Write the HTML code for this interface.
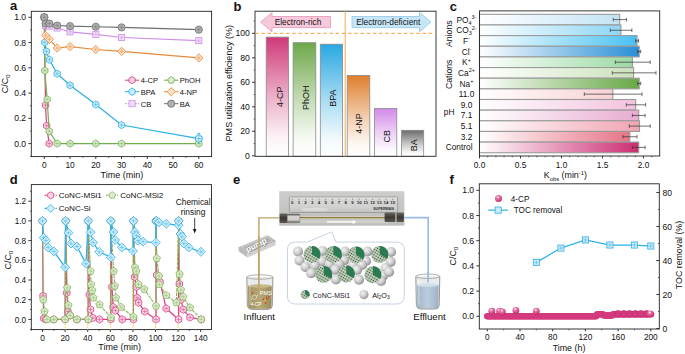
<!DOCTYPE html><html><head><meta charset="utf-8"><title>Figure</title><style>html,body{margin:0;padding:0;background:#fff;}svg{display:block;font-family:"Liberation Sans",sans-serif;}</style></head><body><svg width="685" height="354" viewBox="0 0 685 354" font-family="Liberation Sans, sans-serif"><defs><linearGradient id="gb0" x1="0" y1="0" x2="0" y2="1"><stop offset="0" stop-color="#cf3a78"/><stop offset="0.5" stop-color="#cf3a78" stop-opacity="0.4"/><stop offset="0.85" stop-color="#cf3a78" stop-opacity="0.06"/><stop offset="1" stop-color="#cf3a78" stop-opacity="0"/></linearGradient><linearGradient id="gb1" x1="0" y1="0" x2="0" y2="1"><stop offset="0" stop-color="#6ea84a"/><stop offset="0.5" stop-color="#6ea84a" stop-opacity="0.4"/><stop offset="0.85" stop-color="#6ea84a" stop-opacity="0.06"/><stop offset="1" stop-color="#6ea84a" stop-opacity="0"/></linearGradient><linearGradient id="gb2" x1="0" y1="0" x2="0" y2="1"><stop offset="0" stop-color="#28a8e2"/><stop offset="0.5" stop-color="#28a8e2" stop-opacity="0.4"/><stop offset="0.85" stop-color="#28a8e2" stop-opacity="0.06"/><stop offset="1" stop-color="#28a8e2" stop-opacity="0"/></linearGradient><linearGradient id="gb3" x1="0" y1="0" x2="0" y2="1"><stop offset="0" stop-color="#df7e2c"/><stop offset="0.5" stop-color="#df7e2c" stop-opacity="0.4"/><stop offset="0.85" stop-color="#df7e2c" stop-opacity="0.06"/><stop offset="1" stop-color="#df7e2c" stop-opacity="0"/></linearGradient><linearGradient id="gb4" x1="0" y1="0" x2="0" y2="1"><stop offset="0" stop-color="#d28ae8"/><stop offset="0.5" stop-color="#d28ae8" stop-opacity="0.4"/><stop offset="0.85" stop-color="#d28ae8" stop-opacity="0.06"/><stop offset="1" stop-color="#d28ae8" stop-opacity="0"/></linearGradient><linearGradient id="gb5" x1="0" y1="0" x2="0" y2="1"><stop offset="0" stop-color="#6a6a6a"/><stop offset="0.5" stop-color="#6a6a6a" stop-opacity="0.4"/><stop offset="0.85" stop-color="#6a6a6a" stop-opacity="0.06"/><stop offset="1" stop-color="#6a6a6a" stop-opacity="0"/></linearGradient><linearGradient id="gc0" x1="0" y1="0" x2="1" y2="0"><stop offset="0" stop-color="#ffffff"/><stop offset="1" stop-color="#c2e4f5"/></linearGradient><linearGradient id="gc1" x1="0" y1="0" x2="1" y2="0"><stop offset="0" stop-color="#ffffff"/><stop offset="1" stop-color="#8ed6f4"/></linearGradient><linearGradient id="gc2" x1="0" y1="0" x2="1" y2="0"><stop offset="0" stop-color="#ffffff"/><stop offset="1" stop-color="#48c2f2"/></linearGradient><linearGradient id="gc3" x1="0" y1="0" x2="1" y2="0"><stop offset="0" stop-color="#ffffff"/><stop offset="1" stop-color="#2a8ed6"/></linearGradient><linearGradient id="gc4" x1="0" y1="0" x2="1" y2="0"><stop offset="0" stop-color="#ffffff"/><stop offset="1" stop-color="#9cdaa4"/></linearGradient><linearGradient id="gc5" x1="0" y1="0" x2="1" y2="0"><stop offset="0" stop-color="#ffffff"/><stop offset="1" stop-color="#cce2bc"/></linearGradient><linearGradient id="gc6" x1="0" y1="0" x2="1" y2="0"><stop offset="0" stop-color="#ffffff"/><stop offset="1" stop-color="#66a846"/></linearGradient><linearGradient id="gc7" x1="0" y1="0" x2="1" y2="0"><stop offset="0" stop-color="#ffffff"/><stop offset="1" stop-color="#f8d2d2"/></linearGradient><linearGradient id="gc8" x1="0" y1="0" x2="1" y2="0"><stop offset="0" stop-color="#ffffff"/><stop offset="1" stop-color="#f2c2de"/></linearGradient><linearGradient id="gc9" x1="0" y1="0" x2="1" y2="0"><stop offset="0" stop-color="#ffffff"/><stop offset="1" stop-color="#e8acd0"/></linearGradient><linearGradient id="gc10" x1="0" y1="0" x2="1" y2="0"><stop offset="0" stop-color="#ffffff"/><stop offset="1" stop-color="#f0a4b2"/></linearGradient><linearGradient id="gc11" x1="0" y1="0" x2="1" y2="0"><stop offset="0" stop-color="#ffffff"/><stop offset="1" stop-color="#e67486"/></linearGradient><linearGradient id="gc12" x1="0" y1="0" x2="1" y2="0"><stop offset="0" stop-color="#ffffff"/><stop offset="1" stop-color="#cc2e72"/></linearGradient><linearGradient id="photo" x1="0" y1="0" x2="0" y2="1"><stop offset="0" stop-color="#cdcdcb"/><stop offset="1" stop-color="#bdbdbb"/></linearGradient><linearGradient id="ruler" x1="0" y1="0" x2="0" y2="1"><stop offset="0" stop-color="#d8d8d6"/><stop offset="0.6" stop-color="#d2d2d0"/><stop offset="1" stop-color="#c2c2c0"/></linearGradient><linearGradient id="nut" x1="0" y1="0" x2="0" y2="1"><stop offset="0" stop-color="#6a6660"/><stop offset="0.5" stop-color="#3a3632"/><stop offset="1" stop-color="#5a5650"/></linearGradient><linearGradient id="silv" x1="0" y1="0" x2="0" y2="1"><stop offset="0" stop-color="#5a5852"/><stop offset="0.3" stop-color="#d8d6d0"/><stop offset="0.7" stop-color="#d0cec8"/><stop offset="1" stop-color="#5e5a54"/></linearGradient><linearGradient id="pumpg" x1="0" y1="0" x2="1" y2="1"><stop offset="0" stop-color="#c8c8c8"/><stop offset="0.5" stop-color="#adadad"/><stop offset="1" stop-color="#a0a0a0"/></linearGradient><radialGradient id="wsph" cx="0.38" cy="0.35" r="0.72"><stop offset="0" stop-color="#f4f4f4"/><stop offset="0.5" stop-color="#cdcdcd"/><stop offset="1" stop-color="#858585"/></radialGradient><radialGradient id="gsph" cx="0.45" cy="0.45" r="0.6"><stop offset="0" stop-color="#c8d6c0"/><stop offset="0.8" stop-color="#bccdb6"/><stop offset="1" stop-color="#dde4cc"/></radialGradient><pattern id="dots" width="2.5" height="2.5" patternUnits="userSpaceOnUse" patternTransform="rotate(30)"><circle cx="1.25" cy="1.25" r="0.72" fill="#1e3626" fill-opacity="0.85"/></pattern><linearGradient id="liq1" x1="0" y1="0" x2="1" y2="0"><stop offset="0" stop-color="#a09060"/><stop offset="0.5" stop-color="#b8a874"/><stop offset="1" stop-color="#9c8c5c"/></linearGradient><linearGradient id="liq2" x1="0" y1="0" x2="1" y2="0"><stop offset="0" stop-color="#a2b6ca"/><stop offset="0.5" stop-color="#bccddd"/><stop offset="1" stop-color="#9eb2c6"/></linearGradient><radialGradient id="psph" cx="0.4" cy="0.3" r="0.7"><stop offset="0" stop-color="#ffffff"/><stop offset="0.3" stop-color="#e87aa8"/><stop offset="1" stop-color="#c42a6c"/></radialGradient></defs><rect width="685" height="354" fill="#ffffff"/><text transform="translate(10.00 9.90) scale(1 1.05)" font-size="13.0" font-weight="bold" fill="#111">a</text>
<rect x="31.30" y="11.30" width="180.30" height="145.30" fill="none" stroke="#222" stroke-width="0.9"/>
<line x1="28.30" y1="143.60" x2="31.30" y2="143.60" stroke="#222" stroke-width="0.9" />
<text x="26.10" y="146.70" font-size="8.6" text-anchor="end" fill="#111" >0.0</text>
<line x1="28.30" y1="118.34" x2="31.30" y2="118.34" stroke="#222" stroke-width="0.9" />
<text x="26.10" y="121.44" font-size="8.6" text-anchor="end" fill="#111" >0.2</text>
<line x1="28.30" y1="93.08" x2="31.30" y2="93.08" stroke="#222" stroke-width="0.9" />
<text x="26.10" y="96.18" font-size="8.6" text-anchor="end" fill="#111" >0.4</text>
<line x1="28.30" y1="67.82" x2="31.30" y2="67.82" stroke="#222" stroke-width="0.9" />
<text x="26.10" y="70.92" font-size="8.6" text-anchor="end" fill="#111" >0.6</text>
<line x1="28.30" y1="42.56" x2="31.30" y2="42.56" stroke="#222" stroke-width="0.9" />
<text x="26.10" y="45.66" font-size="8.6" text-anchor="end" fill="#111" >0.8</text>
<line x1="28.30" y1="17.30" x2="31.30" y2="17.30" stroke="#222" stroke-width="0.9" />
<text x="26.10" y="20.40" font-size="8.6" text-anchor="end" fill="#111" >1.0</text>
<line x1="30.00" y1="130.97" x2="31.30" y2="130.97" stroke="#222" stroke-width="0.7" />
<line x1="30.00" y1="105.71" x2="31.30" y2="105.71" stroke="#222" stroke-width="0.7" />
<line x1="30.00" y1="80.45" x2="31.30" y2="80.45" stroke="#222" stroke-width="0.7" />
<line x1="30.00" y1="55.19" x2="31.30" y2="55.19" stroke="#222" stroke-width="0.7" />
<line x1="30.00" y1="29.93" x2="31.30" y2="29.93" stroke="#222" stroke-width="0.7" />
<line x1="30.00" y1="156.23" x2="31.30" y2="156.23" stroke="#222" stroke-width="0.7" />
<line x1="44.30" y1="156.60" x2="44.30" y2="159.00" stroke="#222" stroke-width="0.9" />
<text x="44.30" y="167.90" font-size="8.3" text-anchor="middle" fill="#111" >0</text>
<line x1="70.05" y1="156.60" x2="70.05" y2="159.00" stroke="#222" stroke-width="0.9" />
<text x="70.05" y="167.90" font-size="8.3" text-anchor="middle" fill="#111" >10</text>
<line x1="95.80" y1="156.60" x2="95.80" y2="159.00" stroke="#222" stroke-width="0.9" />
<text x="95.80" y="167.90" font-size="8.3" text-anchor="middle" fill="#111" >20</text>
<line x1="121.55" y1="156.60" x2="121.55" y2="159.00" stroke="#222" stroke-width="0.9" />
<text x="121.55" y="167.90" font-size="8.3" text-anchor="middle" fill="#111" >30</text>
<line x1="147.30" y1="156.60" x2="147.30" y2="159.00" stroke="#222" stroke-width="0.9" />
<text x="147.30" y="167.90" font-size="8.3" text-anchor="middle" fill="#111" >40</text>
<line x1="173.05" y1="156.60" x2="173.05" y2="159.00" stroke="#222" stroke-width="0.9" />
<text x="173.05" y="167.90" font-size="8.3" text-anchor="middle" fill="#111" >50</text>
<line x1="198.80" y1="156.60" x2="198.80" y2="159.00" stroke="#222" stroke-width="0.9" />
<text x="198.80" y="167.90" font-size="8.3" text-anchor="middle" fill="#111" >60</text>
<line x1="57.17" y1="156.60" x2="57.17" y2="157.90" stroke="#222" stroke-width="0.7" />
<line x1="82.92" y1="156.60" x2="82.92" y2="157.90" stroke="#222" stroke-width="0.7" />
<line x1="108.67" y1="156.60" x2="108.67" y2="157.90" stroke="#222" stroke-width="0.7" />
<line x1="134.43" y1="156.60" x2="134.43" y2="157.90" stroke="#222" stroke-width="0.7" />
<line x1="160.18" y1="156.60" x2="160.18" y2="157.90" stroke="#222" stroke-width="0.7" />
<line x1="185.93" y1="156.60" x2="185.93" y2="157.90" stroke="#222" stroke-width="0.7" />
<text x="121.90" y="177.60" font-size="9.0" text-anchor="middle" fill="#111" >Time (min)</text>
<text transform="translate(8.1 93.3) rotate(-90)" font-size="9" fill="#111">C/C<tspan font-size="6" dy="2.2">0</tspan></text>
<polyline points="44.30,17.30 45.51,105.20 46.62,125.79 49.19,143.60" fill="none" stroke="#d6407e" stroke-width="1.2"/>
<polygon points="44.30,13.70 47.42,15.50 47.42,19.10 44.30,20.90 41.18,19.10 41.18,15.50" fill="#f4cfe0" stroke="#d6407e" stroke-width="0.8" fill-opacity="1"/>
<line x1="42.32" y1="17.30" x2="46.28" y2="17.30" stroke="#d6407e" stroke-width="0.5" />
<line x1="44.30" y1="15.32" x2="44.30" y2="19.28" stroke="#d6407e" stroke-width="0.5" />
<polygon points="45.51,101.60 48.63,103.40 48.63,107.00 45.51,108.80 42.39,107.00 42.39,103.40" fill="#f4cfe0" stroke="#d6407e" stroke-width="0.8" fill-opacity="1"/>
<line x1="43.53" y1="105.20" x2="47.49" y2="105.20" stroke="#d6407e" stroke-width="0.5" />
<line x1="45.51" y1="103.22" x2="45.51" y2="107.18" stroke="#d6407e" stroke-width="0.5" />
<polygon points="46.62,122.19 49.74,123.99 49.74,127.59 46.62,129.39 43.50,127.59 43.50,123.99" fill="#f4cfe0" stroke="#d6407e" stroke-width="0.8" fill-opacity="1"/>
<line x1="44.64" y1="125.79" x2="48.60" y2="125.79" stroke="#d6407e" stroke-width="0.5" />
<line x1="46.62" y1="123.81" x2="46.62" y2="127.77" stroke="#d6407e" stroke-width="0.5" />
<polygon points="49.19,140.00 52.31,141.80 52.31,145.40 49.19,147.20 46.07,145.40 46.07,141.80" fill="#f4cfe0" stroke="#d6407e" stroke-width="0.8" fill-opacity="1"/>
<line x1="47.21" y1="143.60" x2="51.17" y2="143.60" stroke="#d6407e" stroke-width="0.5" />
<line x1="49.19" y1="141.62" x2="49.19" y2="145.58" stroke="#d6407e" stroke-width="0.5" />
<polyline points="44.30,17.30 44.81,70.60 47.13,99.39 49.19,131.22 57.17,143.60 70.05,143.60 95.80,143.60 121.55,143.60 198.80,143.60" fill="none" stroke="#72b04e" stroke-width="1.2"/>
<polygon points="44.30,13.70 47.42,15.50 47.42,19.10 44.30,20.90 41.18,19.10 41.18,15.50" fill="#dcebd2" stroke="#72b04e" stroke-width="0.8" fill-opacity="1"/>
<line x1="42.32" y1="17.30" x2="46.28" y2="17.30" stroke="#72b04e" stroke-width="0.5" />
<line x1="44.30" y1="15.32" x2="44.30" y2="19.28" stroke="#72b04e" stroke-width="0.5" />
<polygon points="44.81,67.00 47.93,68.80 47.93,72.40 44.81,74.20 41.70,72.40 41.70,68.80" fill="#dcebd2" stroke="#72b04e" stroke-width="0.8" fill-opacity="1"/>
<line x1="42.84" y1="70.60" x2="46.79" y2="70.60" stroke="#72b04e" stroke-width="0.5" />
<line x1="44.81" y1="68.62" x2="44.81" y2="72.58" stroke="#72b04e" stroke-width="0.5" />
<polygon points="47.13,95.80 50.25,97.59 50.25,101.19 47.13,102.99 44.01,101.19 44.01,97.59" fill="#dcebd2" stroke="#72b04e" stroke-width="0.8" fill-opacity="1"/>
<line x1="45.15" y1="99.39" x2="49.11" y2="99.39" stroke="#72b04e" stroke-width="0.5" />
<line x1="47.13" y1="97.41" x2="47.13" y2="101.38" stroke="#72b04e" stroke-width="0.5" />
<polygon points="49.19,127.62 52.31,129.42 52.31,133.02 49.19,134.82 46.07,133.02 46.07,129.42" fill="#dcebd2" stroke="#72b04e" stroke-width="0.8" fill-opacity="1"/>
<line x1="47.21" y1="131.22" x2="51.17" y2="131.22" stroke="#72b04e" stroke-width="0.5" />
<line x1="49.19" y1="129.24" x2="49.19" y2="133.20" stroke="#72b04e" stroke-width="0.5" />
<polygon points="57.17,140.00 60.29,141.80 60.29,145.40 57.17,147.20 54.06,145.40 54.06,141.80" fill="#dcebd2" stroke="#72b04e" stroke-width="0.8" fill-opacity="1"/>
<line x1="55.20" y1="143.60" x2="59.15" y2="143.60" stroke="#72b04e" stroke-width="0.5" />
<line x1="57.17" y1="141.62" x2="57.17" y2="145.58" stroke="#72b04e" stroke-width="0.5" />
<polygon points="70.05,140.00 73.17,141.80 73.17,145.40 70.05,147.20 66.93,145.40 66.93,141.80" fill="#dcebd2" stroke="#72b04e" stroke-width="0.8" fill-opacity="1"/>
<line x1="68.07" y1="143.60" x2="72.03" y2="143.60" stroke="#72b04e" stroke-width="0.5" />
<line x1="70.05" y1="141.62" x2="70.05" y2="145.58" stroke="#72b04e" stroke-width="0.5" />
<polygon points="95.80,140.00 98.92,141.80 98.92,145.40 95.80,147.20 92.68,145.40 92.68,141.80" fill="#dcebd2" stroke="#72b04e" stroke-width="0.8" fill-opacity="1"/>
<line x1="93.82" y1="143.60" x2="97.78" y2="143.60" stroke="#72b04e" stroke-width="0.5" />
<line x1="95.80" y1="141.62" x2="95.80" y2="145.58" stroke="#72b04e" stroke-width="0.5" />
<polygon points="121.55,140.00 124.67,141.80 124.67,145.40 121.55,147.20 118.43,145.40 118.43,141.80" fill="#dcebd2" stroke="#72b04e" stroke-width="0.8" fill-opacity="1"/>
<line x1="119.57" y1="143.60" x2="123.53" y2="143.60" stroke="#72b04e" stroke-width="0.5" />
<line x1="121.55" y1="141.62" x2="121.55" y2="145.58" stroke="#72b04e" stroke-width="0.5" />
<polygon points="198.80,140.00 201.92,141.80 201.92,145.40 198.80,147.20 195.68,145.40 195.68,141.80" fill="#dcebd2" stroke="#72b04e" stroke-width="0.8" fill-opacity="1"/>
<line x1="196.82" y1="143.60" x2="200.78" y2="143.60" stroke="#72b04e" stroke-width="0.5" />
<line x1="198.80" y1="141.62" x2="198.80" y2="145.58" stroke="#72b04e" stroke-width="0.5" />
<polyline points="44.30,17.30 44.81,42.31 46.36,51.40 49.45,59.74 57.17,73.76 70.05,85.25 95.80,104.45 121.55,125.03 198.80,138.55" fill="none" stroke="#2ab0e6" stroke-width="1.2"/>
<polygon points="44.30,13.70 47.42,15.50 47.42,19.10 44.30,20.90 41.18,19.10 41.18,15.50" fill="#cdeaf8" stroke="#2ab0e6" stroke-width="0.8" fill-opacity="1"/>
<line x1="42.32" y1="17.30" x2="46.28" y2="17.30" stroke="#2ab0e6" stroke-width="0.5" />
<line x1="44.30" y1="15.32" x2="44.30" y2="19.28" stroke="#2ab0e6" stroke-width="0.5" />
<polygon points="44.81,38.71 47.93,40.51 47.93,44.11 44.81,45.91 41.70,44.11 41.70,40.51" fill="#cdeaf8" stroke="#2ab0e6" stroke-width="0.8" fill-opacity="1"/>
<line x1="42.84" y1="42.31" x2="46.79" y2="42.31" stroke="#2ab0e6" stroke-width="0.5" />
<line x1="44.81" y1="40.33" x2="44.81" y2="44.29" stroke="#2ab0e6" stroke-width="0.5" />
<polygon points="46.36,47.80 49.48,49.60 49.48,53.20 46.36,55.00 43.24,53.20 43.24,49.60" fill="#cdeaf8" stroke="#2ab0e6" stroke-width="0.8" fill-opacity="1"/>
<line x1="44.38" y1="51.40" x2="48.34" y2="51.40" stroke="#2ab0e6" stroke-width="0.5" />
<line x1="46.36" y1="49.42" x2="46.36" y2="53.38" stroke="#2ab0e6" stroke-width="0.5" />
<polygon points="49.45,56.14 52.57,57.94 52.57,61.54 49.45,63.34 46.33,61.54 46.33,57.94" fill="#cdeaf8" stroke="#2ab0e6" stroke-width="0.8" fill-opacity="1"/>
<line x1="47.47" y1="59.74" x2="51.43" y2="59.74" stroke="#2ab0e6" stroke-width="0.5" />
<line x1="49.45" y1="57.76" x2="49.45" y2="61.72" stroke="#2ab0e6" stroke-width="0.5" />
<polygon points="57.17,70.16 60.29,71.96 60.29,75.56 57.17,77.36 54.06,75.56 54.06,71.96" fill="#cdeaf8" stroke="#2ab0e6" stroke-width="0.8" fill-opacity="1"/>
<line x1="55.20" y1="73.76" x2="59.15" y2="73.76" stroke="#2ab0e6" stroke-width="0.5" />
<line x1="57.17" y1="71.78" x2="57.17" y2="75.74" stroke="#2ab0e6" stroke-width="0.5" />
<polygon points="70.05,81.65 73.17,83.45 73.17,87.05 70.05,88.85 66.93,87.05 66.93,83.45" fill="#cdeaf8" stroke="#2ab0e6" stroke-width="0.8" fill-opacity="1"/>
<line x1="68.07" y1="85.25" x2="72.03" y2="85.25" stroke="#2ab0e6" stroke-width="0.5" />
<line x1="70.05" y1="83.27" x2="70.05" y2="87.23" stroke="#2ab0e6" stroke-width="0.5" />
<polygon points="95.80,100.85 98.92,102.65 98.92,106.25 95.80,108.05 92.68,106.25 92.68,102.65" fill="#cdeaf8" stroke="#2ab0e6" stroke-width="0.8" fill-opacity="1"/>
<line x1="93.82" y1="104.45" x2="97.78" y2="104.45" stroke="#2ab0e6" stroke-width="0.5" />
<line x1="95.80" y1="102.47" x2="95.80" y2="106.43" stroke="#2ab0e6" stroke-width="0.5" />
<polygon points="121.55,121.43 124.67,123.23 124.67,126.83 121.55,128.63 118.43,126.83 118.43,123.23" fill="#cdeaf8" stroke="#2ab0e6" stroke-width="0.8" fill-opacity="1"/>
<line x1="119.57" y1="125.03" x2="123.53" y2="125.03" stroke="#2ab0e6" stroke-width="0.5" />
<line x1="121.55" y1="123.05" x2="121.55" y2="127.01" stroke="#2ab0e6" stroke-width="0.5" />
<polygon points="198.80,134.95 201.92,136.75 201.92,140.35 198.80,142.15 195.68,140.35 195.68,136.75" fill="#cdeaf8" stroke="#2ab0e6" stroke-width="0.8" fill-opacity="1"/>
<line x1="196.82" y1="138.55" x2="200.78" y2="138.55" stroke="#2ab0e6" stroke-width="0.5" />
<line x1="198.80" y1="136.57" x2="198.80" y2="140.53" stroke="#2ab0e6" stroke-width="0.5" />
<line x1="198.80" y1="133.40" x2="198.80" y2="143.80" stroke="#2ab0e6" stroke-width="0.8" />
<line x1="197.20" y1="133.40" x2="200.40" y2="133.40" stroke="#2ab0e6" stroke-width="0.8" />
<polygon points="198.80,134.75 202.09,136.65 202.09,140.45 198.80,142.35 195.51,140.45 195.51,136.65" fill="#cdeaf8" stroke="#2ab0e6" stroke-width="0.8" fill-opacity="1"/>
<line x1="196.71" y1="138.55" x2="200.89" y2="138.55" stroke="#2ab0e6" stroke-width="0.5" />
<line x1="198.80" y1="136.46" x2="198.80" y2="140.64" stroke="#2ab0e6" stroke-width="0.5" />
<polyline points="44.30,17.30 45.59,35.36 49.45,39.40 57.17,47.99 70.05,46.60 95.80,49.51 121.55,51.40 198.80,57.97" fill="none" stroke="#e88a3a" stroke-width="1.2"/>
<polygon points="44.30,13.16 48.44,17.30 44.30,21.44 40.16,17.30" fill="#fbe0c8" stroke="#e88a3a" stroke-width="0.8" fill-opacity="1"/>
<line x1="42.32" y1="17.30" x2="46.28" y2="17.30" stroke="#e88a3a" stroke-width="0.5" />
<line x1="44.30" y1="15.32" x2="44.30" y2="19.28" stroke="#e88a3a" stroke-width="0.5" />
<polygon points="45.59,31.22 49.73,35.36 45.59,39.50 41.45,35.36" fill="#fbe0c8" stroke="#e88a3a" stroke-width="0.8" fill-opacity="1"/>
<line x1="43.61" y1="35.36" x2="47.57" y2="35.36" stroke="#e88a3a" stroke-width="0.5" />
<line x1="45.59" y1="33.38" x2="45.59" y2="37.34" stroke="#e88a3a" stroke-width="0.5" />
<polygon points="49.45,35.26 53.59,39.40 49.45,43.54 45.31,39.40" fill="#fbe0c8" stroke="#e88a3a" stroke-width="0.8" fill-opacity="1"/>
<line x1="47.47" y1="39.40" x2="51.43" y2="39.40" stroke="#e88a3a" stroke-width="0.5" />
<line x1="49.45" y1="37.42" x2="49.45" y2="41.38" stroke="#e88a3a" stroke-width="0.5" />
<polygon points="57.17,43.85 61.31,47.99 57.17,52.13 53.03,47.99" fill="#fbe0c8" stroke="#e88a3a" stroke-width="0.8" fill-opacity="1"/>
<line x1="55.20" y1="47.99" x2="59.15" y2="47.99" stroke="#e88a3a" stroke-width="0.5" />
<line x1="57.17" y1="46.01" x2="57.17" y2="49.97" stroke="#e88a3a" stroke-width="0.5" />
<polygon points="70.05,42.46 74.19,46.60 70.05,50.74 65.91,46.60" fill="#fbe0c8" stroke="#e88a3a" stroke-width="0.8" fill-opacity="1"/>
<line x1="68.07" y1="46.60" x2="72.03" y2="46.60" stroke="#e88a3a" stroke-width="0.5" />
<line x1="70.05" y1="44.62" x2="70.05" y2="48.58" stroke="#e88a3a" stroke-width="0.5" />
<polygon points="95.80,45.37 99.94,49.51 95.80,53.65 91.66,49.51" fill="#fbe0c8" stroke="#e88a3a" stroke-width="0.8" fill-opacity="1"/>
<line x1="93.82" y1="49.51" x2="97.78" y2="49.51" stroke="#e88a3a" stroke-width="0.5" />
<line x1="95.80" y1="47.53" x2="95.80" y2="51.49" stroke="#e88a3a" stroke-width="0.5" />
<polygon points="121.55,47.26 125.69,51.40 121.55,55.54 117.41,51.40" fill="#fbe0c8" stroke="#e88a3a" stroke-width="0.8" fill-opacity="1"/>
<line x1="119.57" y1="51.40" x2="123.53" y2="51.40" stroke="#e88a3a" stroke-width="0.5" />
<line x1="121.55" y1="49.42" x2="121.55" y2="53.38" stroke="#e88a3a" stroke-width="0.5" />
<polygon points="198.80,53.83 202.94,57.97 198.80,62.11 194.66,57.97" fill="#fbe0c8" stroke="#e88a3a" stroke-width="0.8" fill-opacity="1"/>
<line x1="196.82" y1="57.97" x2="200.78" y2="57.97" stroke="#e88a3a" stroke-width="0.5" />
<line x1="198.80" y1="55.99" x2="198.80" y2="59.95" stroke="#e88a3a" stroke-width="0.5" />
<polyline points="44.30,17.30 45.59,25.51 49.45,26.14 57.17,28.04 70.05,31.82 95.80,34.35 121.55,37.51 198.80,40.67" fill="none" stroke="#d08ee8" stroke-width="1.2"/>
<rect x="41.24" y="14.24" width="6.12" height="6.12" fill="#efdcf8" stroke="#d08ee8" stroke-width="0.8" fill-opacity="1"/>
<line x1="42.32" y1="17.30" x2="46.28" y2="17.30" stroke="#d08ee8" stroke-width="0.5" />
<line x1="44.30" y1="15.32" x2="44.30" y2="19.28" stroke="#d08ee8" stroke-width="0.5" />
<rect x="42.53" y="22.45" width="6.12" height="6.12" fill="#efdcf8" stroke="#d08ee8" stroke-width="0.8" fill-opacity="1"/>
<line x1="43.61" y1="25.51" x2="47.57" y2="25.51" stroke="#d08ee8" stroke-width="0.5" />
<line x1="45.59" y1="23.53" x2="45.59" y2="27.49" stroke="#d08ee8" stroke-width="0.5" />
<rect x="46.39" y="23.08" width="6.12" height="6.12" fill="#efdcf8" stroke="#d08ee8" stroke-width="0.8" fill-opacity="1"/>
<line x1="47.47" y1="26.14" x2="51.43" y2="26.14" stroke="#d08ee8" stroke-width="0.5" />
<line x1="49.45" y1="24.16" x2="49.45" y2="28.12" stroke="#d08ee8" stroke-width="0.5" />
<rect x="54.11" y="24.98" width="6.12" height="6.12" fill="#efdcf8" stroke="#d08ee8" stroke-width="0.8" fill-opacity="1"/>
<line x1="55.20" y1="28.04" x2="59.15" y2="28.04" stroke="#d08ee8" stroke-width="0.5" />
<line x1="57.17" y1="26.06" x2="57.17" y2="30.02" stroke="#d08ee8" stroke-width="0.5" />
<rect x="66.99" y="28.76" width="6.12" height="6.12" fill="#efdcf8" stroke="#d08ee8" stroke-width="0.8" fill-opacity="1"/>
<line x1="68.07" y1="31.82" x2="72.03" y2="31.82" stroke="#d08ee8" stroke-width="0.5" />
<line x1="70.05" y1="29.84" x2="70.05" y2="33.80" stroke="#d08ee8" stroke-width="0.5" />
<rect x="92.74" y="31.29" width="6.12" height="6.12" fill="#efdcf8" stroke="#d08ee8" stroke-width="0.8" fill-opacity="1"/>
<line x1="93.82" y1="34.35" x2="97.78" y2="34.35" stroke="#d08ee8" stroke-width="0.5" />
<line x1="95.80" y1="32.37" x2="95.80" y2="36.33" stroke="#d08ee8" stroke-width="0.5" />
<rect x="118.49" y="34.45" width="6.12" height="6.12" fill="#efdcf8" stroke="#d08ee8" stroke-width="0.8" fill-opacity="1"/>
<line x1="119.57" y1="37.51" x2="123.53" y2="37.51" stroke="#d08ee8" stroke-width="0.5" />
<line x1="121.55" y1="35.53" x2="121.55" y2="39.49" stroke="#d08ee8" stroke-width="0.5" />
<rect x="195.74" y="37.61" width="6.12" height="6.12" fill="#efdcf8" stroke="#d08ee8" stroke-width="0.8" fill-opacity="1"/>
<line x1="196.82" y1="40.67" x2="200.78" y2="40.67" stroke="#d08ee8" stroke-width="0.5" />
<line x1="198.80" y1="38.69" x2="198.80" y2="42.65" stroke="#d08ee8" stroke-width="0.5" />
<polyline points="44.30,17.30 45.59,23.62 49.45,23.62 57.17,25.51 70.05,26.14 95.80,26.77 121.55,27.40 198.80,29.68" fill="none" stroke="#6e6e6e" stroke-width="1.2"/>
<circle cx="44.30" cy="17.30" r="3.60" fill="#b0b0b0" stroke="#6e6e6e" stroke-width="0.8" fill-opacity="1"/>
<line x1="42.32" y1="17.30" x2="46.28" y2="17.30" stroke="#6e6e6e" stroke-width="0.5" />
<line x1="44.30" y1="15.32" x2="44.30" y2="19.28" stroke="#6e6e6e" stroke-width="0.5" />
<circle cx="45.59" cy="23.62" r="3.60" fill="#b0b0b0" stroke="#6e6e6e" stroke-width="0.8" fill-opacity="1"/>
<line x1="43.61" y1="23.62" x2="47.57" y2="23.62" stroke="#6e6e6e" stroke-width="0.5" />
<line x1="45.59" y1="21.64" x2="45.59" y2="25.60" stroke="#6e6e6e" stroke-width="0.5" />
<circle cx="49.45" cy="23.62" r="3.60" fill="#b0b0b0" stroke="#6e6e6e" stroke-width="0.8" fill-opacity="1"/>
<line x1="47.47" y1="23.62" x2="51.43" y2="23.62" stroke="#6e6e6e" stroke-width="0.5" />
<line x1="49.45" y1="21.64" x2="49.45" y2="25.60" stroke="#6e6e6e" stroke-width="0.5" />
<circle cx="57.17" cy="25.51" r="3.60" fill="#b0b0b0" stroke="#6e6e6e" stroke-width="0.8" fill-opacity="1"/>
<line x1="55.20" y1="25.51" x2="59.15" y2="25.51" stroke="#6e6e6e" stroke-width="0.5" />
<line x1="57.17" y1="23.53" x2="57.17" y2="27.49" stroke="#6e6e6e" stroke-width="0.5" />
<circle cx="70.05" cy="26.14" r="3.60" fill="#b0b0b0" stroke="#6e6e6e" stroke-width="0.8" fill-opacity="1"/>
<line x1="68.07" y1="26.14" x2="72.03" y2="26.14" stroke="#6e6e6e" stroke-width="0.5" />
<line x1="70.05" y1="24.16" x2="70.05" y2="28.12" stroke="#6e6e6e" stroke-width="0.5" />
<circle cx="95.80" cy="26.77" r="3.60" fill="#b0b0b0" stroke="#6e6e6e" stroke-width="0.8" fill-opacity="1"/>
<line x1="93.82" y1="26.77" x2="97.78" y2="26.77" stroke="#6e6e6e" stroke-width="0.5" />
<line x1="95.80" y1="24.79" x2="95.80" y2="28.75" stroke="#6e6e6e" stroke-width="0.5" />
<circle cx="121.55" cy="27.40" r="3.60" fill="#b0b0b0" stroke="#6e6e6e" stroke-width="0.8" fill-opacity="1"/>
<line x1="119.57" y1="27.40" x2="123.53" y2="27.40" stroke="#6e6e6e" stroke-width="0.5" />
<line x1="121.55" y1="25.42" x2="121.55" y2="29.38" stroke="#6e6e6e" stroke-width="0.5" />
<circle cx="198.80" cy="29.68" r="3.60" fill="#b0b0b0" stroke="#6e6e6e" stroke-width="0.8" fill-opacity="1"/>
<line x1="196.82" y1="29.68" x2="200.78" y2="29.68" stroke="#6e6e6e" stroke-width="0.5" />
<line x1="198.80" y1="27.70" x2="198.80" y2="31.66" stroke="#6e6e6e" stroke-width="0.5" />
<line x1="124.90" y1="80.2" x2="139.30" y2="80.2" stroke="#d6407e" stroke-width="1"/>
<polygon points="132.10,76.60 135.22,78.40 135.22,82.00 132.10,83.80 128.98,82.00 128.98,78.40" fill="#f4cfe0" stroke="#d6407e" stroke-width="0.8" fill-opacity="1"/>
<text x="140.70" y="83.00" font-size="7.6" text-anchor="start" fill="#111" >4-CP</text>
<line x1="164.00" y1="80.2" x2="178.40" y2="80.2" stroke="#72b04e" stroke-width="1"/>
<polygon points="171.20,76.53 174.69,79.07 173.36,83.17 169.04,83.17 167.71,79.07" fill="#dcebd2" stroke="#72b04e" stroke-width="0.8" fill-opacity="1"/>
<text x="179.80" y="83.00" font-size="7.6" text-anchor="start" fill="#111" >PhOH</text>
<line x1="124.90" y1="91.7" x2="139.30" y2="91.7" stroke="#2ab0e6" stroke-width="1"/>
<polygon points="132.10,88.10 135.22,89.90 135.22,93.50 132.10,95.30 128.98,93.50 128.98,89.90" fill="#cdeaf8" stroke="#2ab0e6" stroke-width="0.8" fill-opacity="1"/>
<text x="140.70" y="94.50" font-size="7.6" text-anchor="start" fill="#111" >BPA</text>
<line x1="164.00" y1="91.7" x2="178.40" y2="91.7" stroke="#e88a3a" stroke-width="1"/>
<polygon points="171.20,87.56 175.34,91.70 171.20,95.84 167.06,91.70" fill="#fbe0c8" stroke="#e88a3a" stroke-width="0.8" fill-opacity="1"/>
<text x="179.80" y="94.50" font-size="7.6" text-anchor="start" fill="#111" >4-NP</text>
<line x1="124.90" y1="103.7" x2="139.30" y2="103.7" stroke="#d08ee8" stroke-width="1" stroke-dasharray="2,1.3"/>
<rect x="129.04" y="100.64" width="6.12" height="6.12" fill="#efdcf8" stroke="#d08ee8" stroke-width="0.8" fill-opacity="1"/>
<text x="140.70" y="106.50" font-size="7.6" text-anchor="start" fill="#111" >CB</text>
<line x1="164.00" y1="103.7" x2="178.40" y2="103.7" stroke="#6e6e6e" stroke-width="1"/>
<circle cx="171.20" cy="103.70" r="3.60" fill="#b0b0b0" stroke="#6e6e6e" stroke-width="0.8" fill-opacity="1"/>
<text x="179.80" y="106.50" font-size="7.6" text-anchor="start" fill="#111" >BA</text>
<text transform="translate(233.40 11.00) scale(1 1.05)" font-size="13.0" font-weight="bold" fill="#111">b</text>
<rect x="266.2" y="37.1" width="22.40" height="119.20" fill="url(#gb0)" stroke="#8a8a8a" stroke-width="0.8"/>
<text transform="translate(282.90 96.70) rotate(-90)" font-size="9" text-anchor="middle" fill="#111">4-CP</text>
<rect x="293.1" y="42.7" width="22.70" height="113.60" fill="url(#gb1)" stroke="#8a8a8a" stroke-width="0.8"/>
<text transform="translate(309.10 97.80) rotate(-90)" font-size="9" text-anchor="middle" fill="#111">PhOH</text>
<rect x="320.3" y="44.2" width="22.30" height="112.10" fill="url(#gb2)" stroke="#8a8a8a" stroke-width="0.8"/>
<text transform="translate(336.20 98.20) rotate(-90)" font-size="9" text-anchor="middle" fill="#111">BPA</text>
<rect x="347.2" y="75.5" width="22.60" height="80.80" fill="url(#gb3)" stroke="#8a8a8a" stroke-width="0.8"/>
<text transform="translate(362.40 123.50) rotate(-90)" font-size="9" text-anchor="middle" fill="#111">4-NP</text>
<rect x="374.4" y="108.5" width="22.40" height="47.80" fill="url(#gb4)" stroke="#8a8a8a" stroke-width="0.8"/>
<text transform="translate(390.20 136.30) rotate(-90)" font-size="9" text-anchor="middle" fill="#111">CB</text>
<rect x="401.6" y="130.3" width="22.10" height="26.00" fill="url(#gb5)" stroke="#8a8a8a" stroke-width="0.8"/>
<text transform="translate(416.50 145.20) rotate(-90)" font-size="9" text-anchor="middle" fill="#111">BA</text>
<rect x="255.00" y="11.20" width="181.00" height="145.10" fill="none" stroke="#222" stroke-width="0.9"/>
<line x1="252.00" y1="155.80" x2="255.00" y2="155.80" stroke="#222" stroke-width="0.9" />
<text x="249.80" y="158.90" font-size="8.6" text-anchor="end" fill="#111" >0</text>
<line x1="252.00" y1="131.30" x2="255.00" y2="131.30" stroke="#222" stroke-width="0.9" />
<text x="249.80" y="134.40" font-size="8.6" text-anchor="end" fill="#111" >20</text>
<line x1="252.00" y1="106.80" x2="255.00" y2="106.80" stroke="#222" stroke-width="0.9" />
<text x="249.80" y="109.90" font-size="8.6" text-anchor="end" fill="#111" >40</text>
<line x1="252.00" y1="82.30" x2="255.00" y2="82.30" stroke="#222" stroke-width="0.9" />
<text x="249.80" y="85.40" font-size="8.6" text-anchor="end" fill="#111" >60</text>
<line x1="252.00" y1="57.80" x2="255.00" y2="57.80" stroke="#222" stroke-width="0.9" />
<text x="249.80" y="60.90" font-size="8.6" text-anchor="end" fill="#111" >80</text>
<line x1="252.00" y1="33.30" x2="255.00" y2="33.30" stroke="#222" stroke-width="0.9" />
<text x="249.80" y="36.40" font-size="8.6" text-anchor="end" fill="#111" >100</text>
<line x1="253.70" y1="143.55" x2="255.00" y2="143.55" stroke="#222" stroke-width="0.7" />
<line x1="253.70" y1="119.05" x2="255.00" y2="119.05" stroke="#222" stroke-width="0.7" />
<line x1="253.70" y1="94.55" x2="255.00" y2="94.55" stroke="#222" stroke-width="0.7" />
<line x1="253.70" y1="70.05" x2="255.00" y2="70.05" stroke="#222" stroke-width="0.7" />
<line x1="253.70" y1="45.55" x2="255.00" y2="45.55" stroke="#222" stroke-width="0.7" />
<line x1="253.70" y1="21.05" x2="255.00" y2="21.05" stroke="#222" stroke-width="0.7" />
<line x1="255.00" y1="33.30" x2="436.00" y2="33.30" stroke="#f4a040" stroke-width="1.0" stroke-dasharray="3.6,2.6"/>
<line x1="345.20" y1="10.90" x2="345.20" y2="156.30" stroke="#f0a040" stroke-width="0.9" />
<text transform="translate(232.3 83.2) rotate(-90)" font-size="9.05" text-anchor="middle" fill="#111">PMS utilization efficiency (%)</text>
<polygon points="260.6,22.1 272,12.7 272,16.5 330.5,16.5 330.5,27.6 272,27.6 272,31.8" fill="#f5c8da" stroke="#e496b8" stroke-width="0.8"/>
<polygon points="430.9,22.1 419.5,12.3 419.5,16.5 352,16.5 352,27.6 419.5,27.6 419.5,31.8" fill="#c6e6f7" stroke="#8ec8ea" stroke-width="0.8"/>
<text x="298.00" y="25.00" font-size="8.3" text-anchor="middle" fill="#111" >Electron-rich</text>
<text x="388.20" y="25.00" font-size="8.3" text-anchor="middle" fill="#111" >Electron-deficient</text>
<text transform="translate(449.70 10.60) scale(1 1.05)" font-size="13.0" font-weight="bold" fill="#111">c</text>
<rect x="479.5" y="14.30" width="140.20" height="10.65" fill="url(#gc0)" stroke="#9a9a9a" stroke-width="1.1"/>
<line x1="613.30" y1="19.60" x2="626.50" y2="19.60" stroke="#333" stroke-width="0.7" />
<line x1="613.30" y1="17.80" x2="613.30" y2="21.40" stroke="#333" stroke-width="0.7" />
<line x1="626.50" y1="17.80" x2="626.50" y2="21.40" stroke="#333" stroke-width="0.7" />
<text x="466.50" y="22.60" font-size="8.3" text-anchor="middle" fill="#111" >PO<tspan font-size="5.5" dy="2">4</tspan><tspan font-size="5.5" dy="-5.5">3-</tspan></text>
<rect x="479.5" y="24.95" width="141.40" height="10.65" fill="url(#gc1)" stroke="#9a9a9a" stroke-width="1.1"/>
<line x1="610.30" y1="30.25" x2="631.90" y2="30.25" stroke="#333" stroke-width="0.7" />
<line x1="610.30" y1="28.45" x2="610.30" y2="32.05" stroke="#333" stroke-width="0.7" />
<line x1="631.90" y1="28.45" x2="631.90" y2="32.05" stroke="#333" stroke-width="0.7" />
<text x="466.50" y="33.25" font-size="8.3" text-anchor="middle" fill="#111" >CO<tspan font-size="5.5" dy="2">3</tspan><tspan font-size="5.5" dy="-5.5">2-</tspan></text>
<rect x="479.5" y="35.60" width="157.50" height="10.65" fill="url(#gc2)" stroke="#9a9a9a" stroke-width="1.1"/>
<line x1="635.50" y1="40.90" x2="638.50" y2="40.90" stroke="#333" stroke-width="0.7" />
<line x1="635.50" y1="39.10" x2="635.50" y2="42.70" stroke="#333" stroke-width="0.7" />
<line x1="638.50" y1="39.10" x2="638.50" y2="42.70" stroke="#333" stroke-width="0.7" />
<text x="466.50" y="43.90" font-size="8.3" text-anchor="middle" fill="#111" >F<tspan font-size="5.5" dy="-3.5">-</tspan></text>
<rect x="479.5" y="46.25" width="159.70" height="10.65" fill="url(#gc3)" stroke="#9a9a9a" stroke-width="1.1"/>
<line x1="637.70" y1="51.55" x2="640.70" y2="51.55" stroke="#333" stroke-width="0.7" />
<line x1="637.70" y1="49.75" x2="637.70" y2="53.35" stroke="#333" stroke-width="0.7" />
<line x1="640.70" y1="49.75" x2="640.70" y2="53.35" stroke="#333" stroke-width="0.7" />
<text x="466.50" y="54.55" font-size="8.3" text-anchor="middle" fill="#111" >Cl<tspan font-size="5.5" dy="-3.5">-</tspan></text>
<rect x="479.5" y="56.90" width="152.90" height="10.65" fill="url(#gc4)" stroke="#9a9a9a" stroke-width="1.1"/>
<line x1="615.30" y1="62.20" x2="650.20" y2="62.20" stroke="#333" stroke-width="0.7" />
<line x1="615.30" y1="60.40" x2="615.30" y2="64.00" stroke="#333" stroke-width="0.7" />
<line x1="650.20" y1="60.40" x2="650.20" y2="64.00" stroke="#333" stroke-width="0.7" />
<text x="466.50" y="65.20" font-size="8.3" text-anchor="middle" fill="#111" >K<tspan font-size="5.5" dy="-3.5">+</tspan></text>
<rect x="479.5" y="67.55" width="154.10" height="10.65" fill="url(#gc5)" stroke="#9a9a9a" stroke-width="1.1"/>
<line x1="612.30" y1="72.85" x2="656.00" y2="72.85" stroke="#333" stroke-width="0.7" />
<line x1="612.30" y1="71.05" x2="612.30" y2="74.65" stroke="#333" stroke-width="0.7" />
<line x1="656.00" y1="71.05" x2="656.00" y2="74.65" stroke="#333" stroke-width="0.7" />
<text x="466.50" y="75.85" font-size="8.3" text-anchor="middle" fill="#111" >Ca<tspan font-size="5.5" dy="-3.5">2+</tspan></text>
<rect x="479.5" y="78.20" width="159.70" height="10.65" fill="url(#gc6)" stroke="#9a9a9a" stroke-width="1.1"/>
<line x1="637.70" y1="83.50" x2="640.70" y2="83.50" stroke="#333" stroke-width="0.7" />
<line x1="637.70" y1="81.70" x2="637.70" y2="85.30" stroke="#333" stroke-width="0.7" />
<line x1="640.70" y1="81.70" x2="640.70" y2="85.30" stroke="#333" stroke-width="0.7" />
<text x="466.50" y="86.50" font-size="8.3" text-anchor="middle" fill="#111" >Na<tspan font-size="5.5" dy="-3.5">+</tspan></text>
<rect x="479.5" y="88.85" width="133.30" height="10.65" fill="url(#gc7)" stroke="#9a9a9a" stroke-width="1.1"/>
<line x1="584.30" y1="94.15" x2="642.00" y2="94.15" stroke="#333" stroke-width="0.7" />
<line x1="584.30" y1="92.35" x2="584.30" y2="95.95" stroke="#333" stroke-width="0.7" />
<line x1="642.00" y1="92.35" x2="642.00" y2="95.95" stroke="#333" stroke-width="0.7" />
<text x="466.50" y="97.15" font-size="8.3" text-anchor="middle" fill="#111" >11.0</text>
<rect x="479.5" y="99.50" width="156.20" height="10.65" fill="url(#gc8)" stroke="#9a9a9a" stroke-width="1.1"/>
<line x1="626.30" y1="104.80" x2="645.60" y2="104.80" stroke="#333" stroke-width="0.7" />
<line x1="626.30" y1="103.00" x2="626.30" y2="106.60" stroke="#333" stroke-width="0.7" />
<line x1="645.60" y1="103.00" x2="645.60" y2="106.60" stroke="#333" stroke-width="0.7" />
<text x="466.50" y="107.80" font-size="8.3" text-anchor="middle" fill="#111" >9.0</text>
<rect x="479.5" y="110.15" width="159.20" height="10.65" fill="url(#gc9)" stroke="#9a9a9a" stroke-width="1.1"/>
<line x1="632.40" y1="115.45" x2="645.10" y2="115.45" stroke="#333" stroke-width="0.7" />
<line x1="632.40" y1="113.65" x2="632.40" y2="117.25" stroke="#333" stroke-width="0.7" />
<line x1="645.10" y1="113.65" x2="645.10" y2="117.25" stroke="#333" stroke-width="0.7" />
<text x="466.50" y="118.45" font-size="8.3" text-anchor="middle" fill="#111" >7.1</text>
<rect x="479.5" y="120.80" width="160.00" height="10.65" fill="url(#gc10)" stroke="#9a9a9a" stroke-width="1.1"/>
<line x1="629.30" y1="126.10" x2="650.20" y2="126.10" stroke="#333" stroke-width="0.7" />
<line x1="629.30" y1="124.30" x2="629.30" y2="127.90" stroke="#333" stroke-width="0.7" />
<line x1="650.20" y1="124.30" x2="650.20" y2="127.90" stroke="#333" stroke-width="0.7" />
<text x="466.50" y="129.10" font-size="8.3" text-anchor="middle" fill="#111" >5.1</text>
<rect x="479.5" y="131.45" width="150.30" height="10.65" fill="url(#gc11)" stroke="#9a9a9a" stroke-width="1.1"/>
<line x1="623.00" y1="136.75" x2="637.00" y2="136.75" stroke="#333" stroke-width="0.7" />
<line x1="623.00" y1="134.95" x2="623.00" y2="138.55" stroke="#333" stroke-width="0.7" />
<line x1="637.00" y1="134.95" x2="637.00" y2="138.55" stroke="#333" stroke-width="0.7" />
<text x="466.50" y="139.75" font-size="8.3" text-anchor="middle" fill="#111" >3.2</text>
<rect x="479.5" y="142.10" width="159.20" height="10.65" fill="url(#gc12)" stroke="#9a9a9a" stroke-width="1.1"/>
<line x1="632.40" y1="147.40" x2="645.10" y2="147.40" stroke="#333" stroke-width="0.7" />
<line x1="632.40" y1="145.60" x2="632.40" y2="149.20" stroke="#333" stroke-width="0.7" />
<line x1="645.10" y1="145.60" x2="645.10" y2="149.20" stroke="#333" stroke-width="0.7" />
<text x="472.50" y="150.40" font-size="8.3" text-anchor="end" fill="#111" >Control</text>
<rect x="479.50" y="10.90" width="180.20" height="145.10" fill="none" stroke="#222" stroke-width="0.9"/>
<line x1="479.50" y1="156.00" x2="479.50" y2="158.40" stroke="#222" stroke-width="0.9" />
<text x="479.50" y="168.30" font-size="8.3" text-anchor="middle" fill="#111" >0.0</text>
<line x1="520.50" y1="156.00" x2="520.50" y2="158.40" stroke="#222" stroke-width="0.9" />
<text x="520.50" y="168.30" font-size="8.3" text-anchor="middle" fill="#111" >0.5</text>
<line x1="561.50" y1="156.00" x2="561.50" y2="158.40" stroke="#222" stroke-width="0.9" />
<text x="561.50" y="168.30" font-size="8.3" text-anchor="middle" fill="#111" >1.0</text>
<line x1="602.50" y1="156.00" x2="602.50" y2="158.40" stroke="#222" stroke-width="0.9" />
<text x="602.50" y="168.30" font-size="8.3" text-anchor="middle" fill="#111" >1.5</text>
<line x1="643.50" y1="156.00" x2="643.50" y2="158.40" stroke="#222" stroke-width="0.9" />
<text x="643.50" y="168.30" font-size="8.3" text-anchor="middle" fill="#111" >2.0</text>
<line x1="487.70" y1="156.00" x2="487.70" y2="157.30" stroke="#222" stroke-width="0.7" />
<line x1="495.90" y1="156.00" x2="495.90" y2="157.30" stroke="#222" stroke-width="0.7" />
<line x1="504.10" y1="156.00" x2="504.10" y2="157.30" stroke="#222" stroke-width="0.7" />
<line x1="512.30" y1="156.00" x2="512.30" y2="157.30" stroke="#222" stroke-width="0.7" />
<line x1="528.70" y1="156.00" x2="528.70" y2="157.30" stroke="#222" stroke-width="0.7" />
<line x1="536.90" y1="156.00" x2="536.90" y2="157.30" stroke="#222" stroke-width="0.7" />
<line x1="545.10" y1="156.00" x2="545.10" y2="157.30" stroke="#222" stroke-width="0.7" />
<line x1="553.30" y1="156.00" x2="553.30" y2="157.30" stroke="#222" stroke-width="0.7" />
<line x1="569.70" y1="156.00" x2="569.70" y2="157.30" stroke="#222" stroke-width="0.7" />
<line x1="577.90" y1="156.00" x2="577.90" y2="157.30" stroke="#222" stroke-width="0.7" />
<line x1="586.10" y1="156.00" x2="586.10" y2="157.30" stroke="#222" stroke-width="0.7" />
<line x1="594.30" y1="156.00" x2="594.30" y2="157.30" stroke="#222" stroke-width="0.7" />
<line x1="610.70" y1="156.00" x2="610.70" y2="157.30" stroke="#222" stroke-width="0.7" />
<line x1="618.90" y1="156.00" x2="618.90" y2="157.30" stroke="#222" stroke-width="0.7" />
<line x1="627.10" y1="156.00" x2="627.10" y2="157.30" stroke="#222" stroke-width="0.7" />
<line x1="635.30" y1="156.00" x2="635.30" y2="157.30" stroke="#222" stroke-width="0.7" />
<line x1="651.70" y1="156.00" x2="651.70" y2="157.30" stroke="#222" stroke-width="0.7" />
<text transform="translate(452.2 33.7) rotate(-90)" font-size="8.7" text-anchor="middle" fill="#111">Anions</text>
<text transform="translate(452.2 74.3) rotate(-90)" font-size="8.7" text-anchor="middle" fill="#111">Cations</text>
<text x="443.80" y="114.50" font-size="8.3" text-anchor="start" fill="#111" >pH</text>
<text x="543.8" y="178.2" font-size="8.9" fill="#111">K<tspan font-size="5.8" dy="2.8">obs</tspan><tspan dy="-2.8"> (min</tspan><tspan font-size="5.8" dy="-3.5">-1</tspan><tspan dy="3.5">)</tspan></text>
<text transform="translate(9.80 184.40) scale(1 1.05)" font-size="13.0" font-weight="bold" fill="#111">d</text>
<rect x="31.30" y="184.60" width="180.20" height="145.00" fill="none" stroke="#222" stroke-width="0.9"/>
<line x1="28.30" y1="319.40" x2="31.30" y2="319.40" stroke="#222" stroke-width="0.9" />
<text x="26.10" y="322.50" font-size="8.2" text-anchor="end" fill="#111" >0.0</text>
<line x1="28.30" y1="299.70" x2="31.30" y2="299.70" stroke="#222" stroke-width="0.9" />
<text x="26.10" y="302.80" font-size="8.2" text-anchor="end" fill="#111" >0.2</text>
<line x1="28.30" y1="280.00" x2="31.30" y2="280.00" stroke="#222" stroke-width="0.9" />
<text x="26.10" y="283.10" font-size="8.2" text-anchor="end" fill="#111" >0.4</text>
<line x1="28.30" y1="260.30" x2="31.30" y2="260.30" stroke="#222" stroke-width="0.9" />
<text x="26.10" y="263.40" font-size="8.2" text-anchor="end" fill="#111" >0.6</text>
<line x1="28.30" y1="240.60" x2="31.30" y2="240.60" stroke="#222" stroke-width="0.9" />
<text x="26.10" y="243.70" font-size="8.2" text-anchor="end" fill="#111" >0.8</text>
<line x1="28.30" y1="220.90" x2="31.30" y2="220.90" stroke="#222" stroke-width="0.9" />
<text x="26.10" y="224.00" font-size="8.2" text-anchor="end" fill="#111" >1.0</text>
<line x1="28.30" y1="201.20" x2="31.30" y2="201.20" stroke="#222" stroke-width="0.9" />
<text x="26.10" y="204.30" font-size="8.2" text-anchor="end" fill="#111" >1.2</text>
<line x1="30.00" y1="309.55" x2="31.30" y2="309.55" stroke="#222" stroke-width="0.7" />
<line x1="30.00" y1="289.85" x2="31.30" y2="289.85" stroke="#222" stroke-width="0.7" />
<line x1="30.00" y1="270.15" x2="31.30" y2="270.15" stroke="#222" stroke-width="0.7" />
<line x1="30.00" y1="250.45" x2="31.30" y2="250.45" stroke="#222" stroke-width="0.7" />
<line x1="30.00" y1="230.75" x2="31.30" y2="230.75" stroke="#222" stroke-width="0.7" />
<line x1="30.00" y1="211.05" x2="31.30" y2="211.05" stroke="#222" stroke-width="0.7" />
<line x1="30.00" y1="191.35" x2="31.30" y2="191.35" stroke="#222" stroke-width="0.7" />
<line x1="30.00" y1="329.25" x2="31.30" y2="329.25" stroke="#222" stroke-width="0.7" />
<line x1="42.50" y1="329.60" x2="42.50" y2="332.00" stroke="#222" stroke-width="0.9" />
<text x="42.50" y="340.90" font-size="8.3" text-anchor="middle" fill="#111" >0</text>
<line x1="65.10" y1="329.60" x2="65.10" y2="332.00" stroke="#222" stroke-width="0.9" />
<text x="65.10" y="340.90" font-size="8.3" text-anchor="middle" fill="#111" >20</text>
<line x1="87.70" y1="329.60" x2="87.70" y2="332.00" stroke="#222" stroke-width="0.9" />
<text x="87.70" y="340.90" font-size="8.3" text-anchor="middle" fill="#111" >40</text>
<line x1="110.30" y1="329.60" x2="110.30" y2="332.00" stroke="#222" stroke-width="0.9" />
<text x="110.30" y="340.90" font-size="8.3" text-anchor="middle" fill="#111" >60</text>
<line x1="132.90" y1="329.60" x2="132.90" y2="332.00" stroke="#222" stroke-width="0.9" />
<text x="132.90" y="340.90" font-size="8.3" text-anchor="middle" fill="#111" >80</text>
<line x1="155.50" y1="329.60" x2="155.50" y2="332.00" stroke="#222" stroke-width="0.9" />
<text x="155.50" y="340.90" font-size="8.3" text-anchor="middle" fill="#111" >100</text>
<line x1="178.10" y1="329.60" x2="178.10" y2="332.00" stroke="#222" stroke-width="0.9" />
<text x="178.10" y="340.90" font-size="8.3" text-anchor="middle" fill="#111" >120</text>
<line x1="200.70" y1="329.60" x2="200.70" y2="332.00" stroke="#222" stroke-width="0.9" />
<text x="200.70" y="340.90" font-size="8.3" text-anchor="middle" fill="#111" >140</text>
<line x1="53.80" y1="329.60" x2="53.80" y2="330.90" stroke="#222" stroke-width="0.7" />
<line x1="76.40" y1="329.60" x2="76.40" y2="330.90" stroke="#222" stroke-width="0.7" />
<line x1="99.00" y1="329.60" x2="99.00" y2="330.90" stroke="#222" stroke-width="0.7" />
<line x1="121.60" y1="329.60" x2="121.60" y2="330.90" stroke="#222" stroke-width="0.7" />
<line x1="144.20" y1="329.60" x2="144.20" y2="330.90" stroke="#222" stroke-width="0.7" />
<line x1="166.80" y1="329.60" x2="166.80" y2="330.90" stroke="#222" stroke-width="0.7" />
<line x1="189.40" y1="329.60" x2="189.40" y2="330.90" stroke="#222" stroke-width="0.7" />
<line x1="31.20" y1="329.60" x2="31.20" y2="330.90" stroke="#222" stroke-width="0.7" />
<text x="119.70" y="350.20" font-size="9.0" text-anchor="middle" fill="#111" >Time (min)</text>
<text transform="translate(10.9 269.4) rotate(-90)" font-size="9" fill="#111">C/C<tspan font-size="6" dy="2.2">0</tspan></text>
<line x1="65.10" y1="220.90" x2="65.10" y2="329.60" stroke="#f2cc30" stroke-width="1.0" stroke-dasharray="1.3,1.1"/>
<line x1="87.70" y1="220.90" x2="87.70" y2="329.60" stroke="#f2cc30" stroke-width="1.0" stroke-dasharray="1.3,1.1"/>
<line x1="110.30" y1="220.90" x2="110.30" y2="329.60" stroke="#f2cc30" stroke-width="1.0" stroke-dasharray="1.3,1.1"/>
<line x1="132.90" y1="220.90" x2="132.90" y2="329.60" stroke="#f2cc30" stroke-width="1.0" stroke-dasharray="1.3,1.1"/>
<line x1="155.50" y1="220.90" x2="155.50" y2="329.60" stroke="#f2cc30" stroke-width="1.0" stroke-dasharray="1.3,1.1"/>
<line x1="178.10" y1="220.90" x2="178.10" y2="329.60" stroke="#f2cc30" stroke-width="1.0" stroke-dasharray="1.3,1.1"/>
<polyline points="42.50,220.90 43.06,295.76 43.86,318.41 45.89,319.40 53.80,319.40 65.10,319.40 65.66,220.90 66.80,292.80 67.92,311.52 70.19,315.46 76.97,319.40 88.26,319.40 88.26,220.90 89.39,294.77 90.53,309.55 92.78,317.92 99.56,319.40 110.86,319.40 110.86,220.90 111.99,286.89 113.12,307.09 115.38,310.53 122.16,319.40 133.46,319.40 133.46,220.90 134.59,277.04 136.29,286.89 137.08,297.73 138.55,302.65 144.76,311.52 156.06,319.40 156.06,220.90 156.74,275.07 160.02,281.97 166.23,308.56 178.66,319.40 178.66,220.90 179.34,283.94 180.92,299.70 183.18,309.55 189.96,317.43 201.26,319.40" fill="none" stroke="#dc3c86" stroke-width="1.2"/>
<polygon points="42.50,217.20 45.70,219.05 45.70,222.75 42.50,224.60 39.30,222.75 39.30,219.05" fill="#f6d4e4" stroke="#dc3c86" stroke-width="0.8" fill-opacity="1"/>
<line x1="40.47" y1="220.90" x2="44.53" y2="220.90" stroke="#dc3c86" stroke-width="0.5" />
<line x1="42.50" y1="218.86" x2="42.50" y2="222.93" stroke="#dc3c86" stroke-width="0.5" />
<polygon points="43.06,292.06 46.27,293.91 46.27,297.61 43.06,299.46 39.86,297.61 39.86,293.91" fill="#f6d4e4" stroke="#dc3c86" stroke-width="0.8" fill-opacity="1"/>
<line x1="41.03" y1="295.76" x2="45.10" y2="295.76" stroke="#dc3c86" stroke-width="0.5" />
<line x1="43.06" y1="293.72" x2="43.06" y2="297.80" stroke="#dc3c86" stroke-width="0.5" />
<polygon points="43.86,314.71 47.06,316.56 47.06,320.26 43.86,322.11 40.65,320.26 40.65,316.56" fill="#f6d4e4" stroke="#dc3c86" stroke-width="0.8" fill-opacity="1"/>
<line x1="41.82" y1="318.41" x2="45.89" y2="318.41" stroke="#dc3c86" stroke-width="0.5" />
<line x1="43.86" y1="316.38" x2="43.86" y2="320.45" stroke="#dc3c86" stroke-width="0.5" />
<polygon points="45.89,315.70 49.09,317.55 49.09,321.25 45.89,323.10 42.69,321.25 42.69,317.55" fill="#f6d4e4" stroke="#dc3c86" stroke-width="0.8" fill-opacity="1"/>
<line x1="43.86" y1="319.40" x2="47.92" y2="319.40" stroke="#dc3c86" stroke-width="0.5" />
<line x1="45.89" y1="317.36" x2="45.89" y2="321.44" stroke="#dc3c86" stroke-width="0.5" />
<polygon points="53.80,315.70 57.00,317.55 57.00,321.25 53.80,323.10 50.60,321.25 50.60,317.55" fill="#f6d4e4" stroke="#dc3c86" stroke-width="0.8" fill-opacity="1"/>
<line x1="51.77" y1="319.40" x2="55.83" y2="319.40" stroke="#dc3c86" stroke-width="0.5" />
<line x1="53.80" y1="317.36" x2="53.80" y2="321.44" stroke="#dc3c86" stroke-width="0.5" />
<polygon points="65.10,315.70 68.30,317.55 68.30,321.25 65.10,323.10 61.90,321.25 61.90,317.55" fill="#f6d4e4" stroke="#dc3c86" stroke-width="0.8" fill-opacity="1"/>
<line x1="63.06" y1="319.40" x2="67.13" y2="319.40" stroke="#dc3c86" stroke-width="0.5" />
<line x1="65.10" y1="317.36" x2="65.10" y2="321.44" stroke="#dc3c86" stroke-width="0.5" />
<polygon points="65.66,217.20 68.87,219.05 68.87,222.75 65.66,224.60 62.46,222.75 62.46,219.05" fill="#f6d4e4" stroke="#dc3c86" stroke-width="0.8" fill-opacity="1"/>
<line x1="63.63" y1="220.90" x2="67.70" y2="220.90" stroke="#dc3c86" stroke-width="0.5" />
<line x1="65.66" y1="218.86" x2="65.66" y2="222.93" stroke="#dc3c86" stroke-width="0.5" />
<polygon points="66.80,289.10 70.00,290.95 70.00,294.65 66.80,296.50 63.59,294.65 63.59,290.95" fill="#f6d4e4" stroke="#dc3c86" stroke-width="0.8" fill-opacity="1"/>
<line x1="64.76" y1="292.80" x2="68.83" y2="292.80" stroke="#dc3c86" stroke-width="0.5" />
<line x1="66.80" y1="290.77" x2="66.80" y2="294.84" stroke="#dc3c86" stroke-width="0.5" />
<polygon points="67.92,307.82 71.13,309.67 71.13,313.37 67.92,315.22 64.72,313.37 64.72,309.67" fill="#f6d4e4" stroke="#dc3c86" stroke-width="0.8" fill-opacity="1"/>
<line x1="65.89" y1="311.52" x2="69.96" y2="311.52" stroke="#dc3c86" stroke-width="0.5" />
<line x1="67.92" y1="309.48" x2="67.92" y2="313.56" stroke="#dc3c86" stroke-width="0.5" />
<polygon points="70.19,311.76 73.39,313.61 73.39,317.31 70.19,319.16 66.98,317.31 66.98,313.61" fill="#f6d4e4" stroke="#dc3c86" stroke-width="0.8" fill-opacity="1"/>
<line x1="68.15" y1="315.46" x2="72.22" y2="315.46" stroke="#dc3c86" stroke-width="0.5" />
<line x1="70.19" y1="313.42" x2="70.19" y2="317.50" stroke="#dc3c86" stroke-width="0.5" />
<polygon points="76.97,315.70 80.17,317.55 80.17,321.25 76.97,323.10 73.76,321.25 73.76,317.55" fill="#f6d4e4" stroke="#dc3c86" stroke-width="0.8" fill-opacity="1"/>
<line x1="74.93" y1="319.40" x2="79.00" y2="319.40" stroke="#dc3c86" stroke-width="0.5" />
<line x1="76.97" y1="317.36" x2="76.97" y2="321.44" stroke="#dc3c86" stroke-width="0.5" />
<polygon points="88.26,315.70 91.47,317.55 91.47,321.25 88.26,323.10 85.06,321.25 85.06,317.55" fill="#f6d4e4" stroke="#dc3c86" stroke-width="0.8" fill-opacity="1"/>
<line x1="86.23" y1="319.40" x2="90.30" y2="319.40" stroke="#dc3c86" stroke-width="0.5" />
<line x1="88.26" y1="317.36" x2="88.26" y2="321.44" stroke="#dc3c86" stroke-width="0.5" />
<polygon points="88.26,217.20 91.47,219.05 91.47,222.75 88.26,224.60 85.06,222.75 85.06,219.05" fill="#f6d4e4" stroke="#dc3c86" stroke-width="0.8" fill-opacity="1"/>
<line x1="86.23" y1="220.90" x2="90.30" y2="220.90" stroke="#dc3c86" stroke-width="0.5" />
<line x1="88.26" y1="218.86" x2="88.26" y2="222.93" stroke="#dc3c86" stroke-width="0.5" />
<polygon points="89.39,291.07 92.60,292.92 92.60,296.62 89.39,298.47 86.19,296.62 86.19,292.92" fill="#f6d4e4" stroke="#dc3c86" stroke-width="0.8" fill-opacity="1"/>
<line x1="87.36" y1="294.77" x2="91.43" y2="294.77" stroke="#dc3c86" stroke-width="0.5" />
<line x1="89.39" y1="292.74" x2="89.39" y2="296.81" stroke="#dc3c86" stroke-width="0.5" />
<polygon points="90.53,305.85 93.73,307.70 93.73,311.40 90.53,313.25 87.32,311.40 87.32,307.70" fill="#f6d4e4" stroke="#dc3c86" stroke-width="0.8" fill-opacity="1"/>
<line x1="88.49" y1="309.55" x2="92.56" y2="309.55" stroke="#dc3c86" stroke-width="0.5" />
<line x1="90.53" y1="307.51" x2="90.53" y2="311.58" stroke="#dc3c86" stroke-width="0.5" />
<polygon points="92.78,314.22 95.99,316.07 95.99,319.77 92.78,321.62 89.58,319.77 89.58,316.07" fill="#f6d4e4" stroke="#dc3c86" stroke-width="0.8" fill-opacity="1"/>
<line x1="90.75" y1="317.92" x2="94.82" y2="317.92" stroke="#dc3c86" stroke-width="0.5" />
<line x1="92.78" y1="315.89" x2="92.78" y2="319.96" stroke="#dc3c86" stroke-width="0.5" />
<polygon points="99.56,315.70 102.77,317.55 102.77,321.25 99.56,323.10 96.36,321.25 96.36,317.55" fill="#f6d4e4" stroke="#dc3c86" stroke-width="0.8" fill-opacity="1"/>
<line x1="97.53" y1="319.40" x2="101.60" y2="319.40" stroke="#dc3c86" stroke-width="0.5" />
<line x1="99.56" y1="317.36" x2="99.56" y2="321.44" stroke="#dc3c86" stroke-width="0.5" />
<polygon points="110.86,315.70 114.07,317.55 114.07,321.25 110.86,323.10 107.66,321.25 107.66,317.55" fill="#f6d4e4" stroke="#dc3c86" stroke-width="0.8" fill-opacity="1"/>
<line x1="108.83" y1="319.40" x2="112.90" y2="319.40" stroke="#dc3c86" stroke-width="0.5" />
<line x1="110.86" y1="317.36" x2="110.86" y2="321.44" stroke="#dc3c86" stroke-width="0.5" />
<polygon points="110.86,217.20 114.07,219.05 114.07,222.75 110.86,224.60 107.66,222.75 107.66,219.05" fill="#f6d4e4" stroke="#dc3c86" stroke-width="0.8" fill-opacity="1"/>
<line x1="108.83" y1="220.90" x2="112.90" y2="220.90" stroke="#dc3c86" stroke-width="0.5" />
<line x1="110.86" y1="218.86" x2="110.86" y2="222.93" stroke="#dc3c86" stroke-width="0.5" />
<polygon points="111.99,283.19 115.20,285.04 115.20,288.75 111.99,290.59 108.79,288.75 108.79,285.04" fill="#f6d4e4" stroke="#dc3c86" stroke-width="0.8" fill-opacity="1"/>
<line x1="109.96" y1="286.89" x2="114.03" y2="286.89" stroke="#dc3c86" stroke-width="0.5" />
<line x1="111.99" y1="284.86" x2="111.99" y2="288.93" stroke="#dc3c86" stroke-width="0.5" />
<polygon points="113.12,303.39 116.33,305.24 116.33,308.94 113.12,310.79 109.92,308.94 109.92,305.24" fill="#f6d4e4" stroke="#dc3c86" stroke-width="0.8" fill-opacity="1"/>
<line x1="111.09" y1="307.09" x2="115.16" y2="307.09" stroke="#dc3c86" stroke-width="0.5" />
<line x1="113.12" y1="305.05" x2="113.12" y2="309.12" stroke="#dc3c86" stroke-width="0.5" />
<polygon points="115.38,306.83 118.59,308.68 118.59,312.38 115.38,314.23 112.18,312.38 112.18,308.68" fill="#f6d4e4" stroke="#dc3c86" stroke-width="0.8" fill-opacity="1"/>
<line x1="113.35" y1="310.53" x2="117.42" y2="310.53" stroke="#dc3c86" stroke-width="0.5" />
<line x1="115.38" y1="308.50" x2="115.38" y2="312.57" stroke="#dc3c86" stroke-width="0.5" />
<polygon points="122.16,315.70 125.37,317.55 125.37,321.25 122.16,323.10 118.96,321.25 118.96,317.55" fill="#f6d4e4" stroke="#dc3c86" stroke-width="0.8" fill-opacity="1"/>
<line x1="120.13" y1="319.40" x2="124.20" y2="319.40" stroke="#dc3c86" stroke-width="0.5" />
<line x1="122.16" y1="317.36" x2="122.16" y2="321.44" stroke="#dc3c86" stroke-width="0.5" />
<polygon points="133.46,315.70 136.67,317.55 136.67,321.25 133.46,323.10 130.26,321.25 130.26,317.55" fill="#f6d4e4" stroke="#dc3c86" stroke-width="0.8" fill-opacity="1"/>
<line x1="131.43" y1="319.40" x2="135.50" y2="319.40" stroke="#dc3c86" stroke-width="0.5" />
<line x1="133.46" y1="317.36" x2="133.46" y2="321.44" stroke="#dc3c86" stroke-width="0.5" />
<polygon points="133.46,217.20 136.67,219.05 136.67,222.75 133.46,224.60 130.26,222.75 130.26,219.05" fill="#f6d4e4" stroke="#dc3c86" stroke-width="0.8" fill-opacity="1"/>
<line x1="131.43" y1="220.90" x2="135.50" y2="220.90" stroke="#dc3c86" stroke-width="0.5" />
<line x1="133.46" y1="218.86" x2="133.46" y2="222.93" stroke="#dc3c86" stroke-width="0.5" />
<polygon points="134.59,273.34 137.80,275.19 137.80,278.89 134.59,280.74 131.39,278.89 131.39,275.19" fill="#f6d4e4" stroke="#dc3c86" stroke-width="0.8" fill-opacity="1"/>
<line x1="132.56" y1="277.04" x2="136.63" y2="277.04" stroke="#dc3c86" stroke-width="0.5" />
<line x1="134.59" y1="275.01" x2="134.59" y2="279.08" stroke="#dc3c86" stroke-width="0.5" />
<polygon points="136.29,283.19 139.49,285.04 139.49,288.75 136.29,290.59 133.09,288.75 133.09,285.04" fill="#f6d4e4" stroke="#dc3c86" stroke-width="0.8" fill-opacity="1"/>
<line x1="134.25" y1="286.89" x2="138.32" y2="286.89" stroke="#dc3c86" stroke-width="0.5" />
<line x1="136.29" y1="284.86" x2="136.29" y2="288.93" stroke="#dc3c86" stroke-width="0.5" />
<polygon points="137.08,294.03 140.29,295.88 140.29,299.58 137.08,301.43 133.88,299.58 133.88,295.88" fill="#f6d4e4" stroke="#dc3c86" stroke-width="0.8" fill-opacity="1"/>
<line x1="135.05" y1="297.73" x2="139.12" y2="297.73" stroke="#dc3c86" stroke-width="0.5" />
<line x1="137.08" y1="295.69" x2="137.08" y2="299.76" stroke="#dc3c86" stroke-width="0.5" />
<polygon points="138.55,298.95 141.75,300.80 141.75,304.50 138.55,306.35 135.35,304.50 135.35,300.80" fill="#f6d4e4" stroke="#dc3c86" stroke-width="0.8" fill-opacity="1"/>
<line x1="136.52" y1="302.65" x2="140.59" y2="302.65" stroke="#dc3c86" stroke-width="0.5" />
<line x1="138.55" y1="300.62" x2="138.55" y2="304.69" stroke="#dc3c86" stroke-width="0.5" />
<polygon points="144.76,307.82 147.97,309.67 147.97,313.37 144.76,315.22 141.56,313.37 141.56,309.67" fill="#f6d4e4" stroke="#dc3c86" stroke-width="0.8" fill-opacity="1"/>
<line x1="142.73" y1="311.52" x2="146.80" y2="311.52" stroke="#dc3c86" stroke-width="0.5" />
<line x1="144.76" y1="309.48" x2="144.76" y2="313.56" stroke="#dc3c86" stroke-width="0.5" />
<polygon points="156.06,315.70 159.27,317.55 159.27,321.25 156.06,323.10 152.86,321.25 152.86,317.55" fill="#f6d4e4" stroke="#dc3c86" stroke-width="0.8" fill-opacity="1"/>
<line x1="154.03" y1="319.40" x2="158.10" y2="319.40" stroke="#dc3c86" stroke-width="0.5" />
<line x1="156.06" y1="317.36" x2="156.06" y2="321.44" stroke="#dc3c86" stroke-width="0.5" />
<polygon points="156.06,217.20 159.27,219.05 159.27,222.75 156.06,224.60 152.86,222.75 152.86,219.05" fill="#f6d4e4" stroke="#dc3c86" stroke-width="0.8" fill-opacity="1"/>
<line x1="154.03" y1="220.90" x2="158.10" y2="220.90" stroke="#dc3c86" stroke-width="0.5" />
<line x1="156.06" y1="218.86" x2="156.06" y2="222.93" stroke="#dc3c86" stroke-width="0.5" />
<polygon points="156.74,271.38 159.95,273.22 159.95,276.93 156.74,278.77 153.54,276.93 153.54,273.22" fill="#f6d4e4" stroke="#dc3c86" stroke-width="0.8" fill-opacity="1"/>
<line x1="154.71" y1="275.07" x2="158.78" y2="275.07" stroke="#dc3c86" stroke-width="0.5" />
<line x1="156.74" y1="273.04" x2="156.74" y2="277.11" stroke="#dc3c86" stroke-width="0.5" />
<polygon points="160.02,278.27 163.22,280.12 163.22,283.82 160.02,285.67 156.82,283.82 156.82,280.12" fill="#f6d4e4" stroke="#dc3c86" stroke-width="0.8" fill-opacity="1"/>
<line x1="157.98" y1="281.97" x2="162.05" y2="281.97" stroke="#dc3c86" stroke-width="0.5" />
<line x1="160.02" y1="279.93" x2="160.02" y2="284.00" stroke="#dc3c86" stroke-width="0.5" />
<polygon points="166.23,304.87 169.44,306.71 169.44,310.42 166.23,312.26 163.03,310.42 163.03,306.71" fill="#f6d4e4" stroke="#dc3c86" stroke-width="0.8" fill-opacity="1"/>
<line x1="164.20" y1="308.56" x2="168.27" y2="308.56" stroke="#dc3c86" stroke-width="0.5" />
<line x1="166.23" y1="306.53" x2="166.23" y2="310.60" stroke="#dc3c86" stroke-width="0.5" />
<polygon points="178.66,315.70 181.87,317.55 181.87,321.25 178.66,323.10 175.46,321.25 175.46,317.55" fill="#f6d4e4" stroke="#dc3c86" stroke-width="0.8" fill-opacity="1"/>
<line x1="176.63" y1="319.40" x2="180.70" y2="319.40" stroke="#dc3c86" stroke-width="0.5" />
<line x1="178.66" y1="317.36" x2="178.66" y2="321.44" stroke="#dc3c86" stroke-width="0.5" />
<polygon points="178.66,217.20 181.87,219.05 181.87,222.75 178.66,224.60 175.46,222.75 175.46,219.05" fill="#f6d4e4" stroke="#dc3c86" stroke-width="0.8" fill-opacity="1"/>
<line x1="176.63" y1="220.90" x2="180.70" y2="220.90" stroke="#dc3c86" stroke-width="0.5" />
<line x1="178.66" y1="218.86" x2="178.66" y2="222.93" stroke="#dc3c86" stroke-width="0.5" />
<polygon points="179.34,280.24 182.55,282.09 182.55,285.79 179.34,287.64 176.14,285.79 176.14,282.09" fill="#f6d4e4" stroke="#dc3c86" stroke-width="0.8" fill-opacity="1"/>
<line x1="177.31" y1="283.94" x2="181.38" y2="283.94" stroke="#dc3c86" stroke-width="0.5" />
<line x1="179.34" y1="281.90" x2="179.34" y2="285.98" stroke="#dc3c86" stroke-width="0.5" />
<polygon points="180.92,296.00 184.13,297.85 184.13,301.55 180.92,303.40 177.72,301.55 177.72,297.85" fill="#f6d4e4" stroke="#dc3c86" stroke-width="0.8" fill-opacity="1"/>
<line x1="178.89" y1="299.70" x2="182.96" y2="299.70" stroke="#dc3c86" stroke-width="0.5" />
<line x1="180.92" y1="297.66" x2="180.92" y2="301.74" stroke="#dc3c86" stroke-width="0.5" />
<polygon points="183.18,305.85 186.39,307.70 186.39,311.40 183.18,313.25 179.98,311.40 179.98,307.70" fill="#f6d4e4" stroke="#dc3c86" stroke-width="0.8" fill-opacity="1"/>
<line x1="181.15" y1="309.55" x2="185.22" y2="309.55" stroke="#dc3c86" stroke-width="0.5" />
<line x1="183.18" y1="307.51" x2="183.18" y2="311.58" stroke="#dc3c86" stroke-width="0.5" />
<polygon points="189.96,313.73 193.17,315.58 193.17,319.28 189.96,321.13 186.76,319.28 186.76,315.58" fill="#f6d4e4" stroke="#dc3c86" stroke-width="0.8" fill-opacity="1"/>
<line x1="187.93" y1="317.43" x2="192.00" y2="317.43" stroke="#dc3c86" stroke-width="0.5" />
<line x1="189.96" y1="315.39" x2="189.96" y2="319.46" stroke="#dc3c86" stroke-width="0.5" />
<polygon points="201.26,315.70 204.47,317.55 204.47,321.25 201.26,323.10 198.06,321.25 198.06,317.55" fill="#f6d4e4" stroke="#dc3c86" stroke-width="0.8" fill-opacity="1"/>
<line x1="199.23" y1="319.40" x2="203.30" y2="319.40" stroke="#dc3c86" stroke-width="0.5" />
<line x1="201.26" y1="317.36" x2="201.26" y2="321.44" stroke="#dc3c86" stroke-width="0.5" />
<polyline points="42.50,220.90 43.29,299.70 44.53,311.52 47.02,319.40 53.80,319.40 65.10,319.40 65.66,220.90 67.13,287.88 68.38,305.12 70.19,315.46 76.97,319.40 88.26,319.40 88.26,220.90 90.53,271.13 91.09,284.43 92.22,290.34 93.35,297.73 99.56,304.62 110.86,317.43 110.86,220.90 113.69,271.13 114.82,285.91 115.95,297.73 121.03,307.09 133.46,316.84 133.46,220.90 135.05,267.59 136.29,271.13 138.55,284.43 144.20,289.16 156.06,306.00 156.06,220.90 156.74,258.33 159.12,276.06 159.45,284.43 166.23,295.27 176.41,302.65 178.66,220.90 179.57,274.09 180.92,289.85 183.18,296.75 189.96,307.58 201.26,319.40" fill="none" stroke="#86b65c" stroke-width="1.1" stroke-dasharray="3.5,0.9"/>
<polygon points="42.50,217.02 46.19,219.70 44.78,224.04 40.22,224.04 38.81,219.70" fill="#dfecd4" stroke="#86b65c" stroke-width="0.8" fill-opacity="1"/>
<line x1="40.41" y1="220.90" x2="44.59" y2="220.90" stroke="#86b65c" stroke-width="0.5" />
<line x1="42.50" y1="218.81" x2="42.50" y2="222.99" stroke="#86b65c" stroke-width="0.5" />
<polygon points="43.29,295.82 46.98,298.50 45.57,302.84 41.01,302.84 39.60,298.50" fill="#dfecd4" stroke="#86b65c" stroke-width="0.8" fill-opacity="1"/>
<line x1="41.20" y1="299.70" x2="45.38" y2="299.70" stroke="#86b65c" stroke-width="0.5" />
<line x1="43.29" y1="297.61" x2="43.29" y2="301.79" stroke="#86b65c" stroke-width="0.5" />
<polygon points="44.53,307.64 48.22,310.32 46.81,314.66 42.26,314.66 40.85,310.32" fill="#dfecd4" stroke="#86b65c" stroke-width="0.8" fill-opacity="1"/>
<line x1="42.44" y1="311.52" x2="46.62" y2="311.52" stroke="#86b65c" stroke-width="0.5" />
<line x1="44.53" y1="309.43" x2="44.53" y2="313.61" stroke="#86b65c" stroke-width="0.5" />
<polygon points="47.02,315.52 50.71,318.20 49.30,322.54 44.74,322.54 43.33,318.20" fill="#dfecd4" stroke="#86b65c" stroke-width="0.8" fill-opacity="1"/>
<line x1="44.93" y1="319.40" x2="49.11" y2="319.40" stroke="#86b65c" stroke-width="0.5" />
<line x1="47.02" y1="317.31" x2="47.02" y2="321.49" stroke="#86b65c" stroke-width="0.5" />
<polygon points="53.80,315.52 57.49,318.20 56.08,322.54 51.52,322.54 50.11,318.20" fill="#dfecd4" stroke="#86b65c" stroke-width="0.8" fill-opacity="1"/>
<line x1="51.71" y1="319.40" x2="55.89" y2="319.40" stroke="#86b65c" stroke-width="0.5" />
<line x1="53.80" y1="317.31" x2="53.80" y2="321.49" stroke="#86b65c" stroke-width="0.5" />
<polygon points="65.10,315.52 68.79,318.20 67.38,322.54 62.82,322.54 61.41,318.20" fill="#dfecd4" stroke="#86b65c" stroke-width="0.8" fill-opacity="1"/>
<line x1="63.01" y1="319.40" x2="67.19" y2="319.40" stroke="#86b65c" stroke-width="0.5" />
<line x1="65.10" y1="317.31" x2="65.10" y2="321.49" stroke="#86b65c" stroke-width="0.5" />
<polygon points="65.66,217.02 69.35,219.70 67.94,224.04 63.39,224.04 61.98,219.70" fill="#dfecd4" stroke="#86b65c" stroke-width="0.8" fill-opacity="1"/>
<line x1="63.57" y1="220.90" x2="67.75" y2="220.90" stroke="#86b65c" stroke-width="0.5" />
<line x1="65.66" y1="218.81" x2="65.66" y2="222.99" stroke="#86b65c" stroke-width="0.5" />
<polygon points="67.13,284.00 70.82,286.68 69.41,291.02 64.86,291.02 63.45,286.68" fill="#dfecd4" stroke="#86b65c" stroke-width="0.8" fill-opacity="1"/>
<line x1="65.04" y1="287.88" x2="69.22" y2="287.88" stroke="#86b65c" stroke-width="0.5" />
<line x1="67.13" y1="285.79" x2="67.13" y2="289.97" stroke="#86b65c" stroke-width="0.5" />
<polygon points="68.38,301.24 72.06,303.92 70.66,308.25 66.10,308.25 64.69,303.92" fill="#dfecd4" stroke="#86b65c" stroke-width="0.8" fill-opacity="1"/>
<line x1="66.29" y1="305.12" x2="70.47" y2="305.12" stroke="#86b65c" stroke-width="0.5" />
<line x1="68.38" y1="303.03" x2="68.38" y2="307.21" stroke="#86b65c" stroke-width="0.5" />
<polygon points="70.19,311.58 73.87,314.26 72.46,318.60 67.91,318.60 66.50,314.26" fill="#dfecd4" stroke="#86b65c" stroke-width="0.8" fill-opacity="1"/>
<line x1="68.09" y1="315.46" x2="72.28" y2="315.46" stroke="#86b65c" stroke-width="0.5" />
<line x1="70.19" y1="313.37" x2="70.19" y2="317.55" stroke="#86b65c" stroke-width="0.5" />
<polygon points="76.97,315.52 80.65,318.20 79.24,322.54 74.69,322.54 73.28,318.20" fill="#dfecd4" stroke="#86b65c" stroke-width="0.8" fill-opacity="1"/>
<line x1="74.88" y1="319.40" x2="79.06" y2="319.40" stroke="#86b65c" stroke-width="0.5" />
<line x1="76.97" y1="317.31" x2="76.97" y2="321.49" stroke="#86b65c" stroke-width="0.5" />
<polygon points="88.26,315.52 91.95,318.20 90.54,322.54 85.99,322.54 84.58,318.20" fill="#dfecd4" stroke="#86b65c" stroke-width="0.8" fill-opacity="1"/>
<line x1="86.17" y1="319.40" x2="90.35" y2="319.40" stroke="#86b65c" stroke-width="0.5" />
<line x1="88.26" y1="317.31" x2="88.26" y2="321.49" stroke="#86b65c" stroke-width="0.5" />
<polygon points="88.26,217.02 91.95,219.70 90.54,224.04 85.99,224.04 84.58,219.70" fill="#dfecd4" stroke="#86b65c" stroke-width="0.8" fill-opacity="1"/>
<line x1="86.17" y1="220.90" x2="90.35" y2="220.90" stroke="#86b65c" stroke-width="0.5" />
<line x1="88.26" y1="218.81" x2="88.26" y2="222.99" stroke="#86b65c" stroke-width="0.5" />
<polygon points="90.53,267.26 94.21,269.94 92.80,274.27 88.25,274.27 86.84,269.94" fill="#dfecd4" stroke="#86b65c" stroke-width="0.8" fill-opacity="1"/>
<line x1="88.44" y1="271.13" x2="92.62" y2="271.13" stroke="#86b65c" stroke-width="0.5" />
<line x1="90.53" y1="269.05" x2="90.53" y2="273.22" stroke="#86b65c" stroke-width="0.5" />
<polygon points="91.09,280.56 94.78,283.23 93.37,287.57 88.81,287.57 87.40,283.23" fill="#dfecd4" stroke="#86b65c" stroke-width="0.8" fill-opacity="1"/>
<line x1="89.00" y1="284.43" x2="93.18" y2="284.43" stroke="#86b65c" stroke-width="0.5" />
<line x1="91.09" y1="282.34" x2="91.09" y2="286.52" stroke="#86b65c" stroke-width="0.5" />
<polygon points="92.22,286.47 95.91,289.14 94.50,293.48 89.94,293.48 88.53,289.14" fill="#dfecd4" stroke="#86b65c" stroke-width="0.8" fill-opacity="1"/>
<line x1="90.13" y1="290.34" x2="94.31" y2="290.34" stroke="#86b65c" stroke-width="0.5" />
<line x1="92.22" y1="288.25" x2="92.22" y2="292.43" stroke="#86b65c" stroke-width="0.5" />
<polygon points="93.35,293.85 97.04,296.53 95.63,300.87 91.07,300.87 89.66,296.53" fill="#dfecd4" stroke="#86b65c" stroke-width="0.8" fill-opacity="1"/>
<line x1="91.26" y1="297.73" x2="95.44" y2="297.73" stroke="#86b65c" stroke-width="0.5" />
<line x1="93.35" y1="295.64" x2="93.35" y2="299.82" stroke="#86b65c" stroke-width="0.5" />
<polygon points="99.56,300.75 103.25,303.43 101.84,307.76 97.29,307.76 95.88,303.43" fill="#dfecd4" stroke="#86b65c" stroke-width="0.8" fill-opacity="1"/>
<line x1="97.47" y1="304.62" x2="101.66" y2="304.62" stroke="#86b65c" stroke-width="0.5" />
<line x1="99.56" y1="302.54" x2="99.56" y2="306.71" stroke="#86b65c" stroke-width="0.5" />
<polygon points="110.86,313.55 114.55,316.23 113.14,320.57 108.59,320.57 107.18,316.23" fill="#dfecd4" stroke="#86b65c" stroke-width="0.8" fill-opacity="1"/>
<line x1="108.77" y1="317.43" x2="112.95" y2="317.43" stroke="#86b65c" stroke-width="0.5" />
<line x1="110.86" y1="315.34" x2="110.86" y2="319.52" stroke="#86b65c" stroke-width="0.5" />
<polygon points="110.86,217.02 114.55,219.70 113.14,224.04 108.59,224.04 107.18,219.70" fill="#dfecd4" stroke="#86b65c" stroke-width="0.8" fill-opacity="1"/>
<line x1="108.77" y1="220.90" x2="112.95" y2="220.90" stroke="#86b65c" stroke-width="0.5" />
<line x1="110.86" y1="218.81" x2="110.86" y2="222.99" stroke="#86b65c" stroke-width="0.5" />
<polygon points="113.69,267.26 117.38,269.94 115.97,274.27 111.41,274.27 110.00,269.94" fill="#dfecd4" stroke="#86b65c" stroke-width="0.8" fill-opacity="1"/>
<line x1="111.60" y1="271.13" x2="115.78" y2="271.13" stroke="#86b65c" stroke-width="0.5" />
<line x1="113.69" y1="269.05" x2="113.69" y2="273.22" stroke="#86b65c" stroke-width="0.5" />
<polygon points="114.82,282.03 118.51,284.71 117.10,289.05 112.54,289.05 111.13,284.71" fill="#dfecd4" stroke="#86b65c" stroke-width="0.8" fill-opacity="1"/>
<line x1="112.73" y1="285.91" x2="116.91" y2="285.91" stroke="#86b65c" stroke-width="0.5" />
<line x1="114.82" y1="283.82" x2="114.82" y2="288.00" stroke="#86b65c" stroke-width="0.5" />
<polygon points="115.95,293.85 119.64,296.53 118.23,300.87 113.67,300.87 112.26,296.53" fill="#dfecd4" stroke="#86b65c" stroke-width="0.8" fill-opacity="1"/>
<line x1="113.86" y1="297.73" x2="118.04" y2="297.73" stroke="#86b65c" stroke-width="0.5" />
<line x1="115.95" y1="295.64" x2="115.95" y2="299.82" stroke="#86b65c" stroke-width="0.5" />
<polygon points="121.03,303.21 124.72,305.89 123.31,310.22 118.76,310.22 117.35,305.89" fill="#dfecd4" stroke="#86b65c" stroke-width="0.8" fill-opacity="1"/>
<line x1="118.94" y1="307.09" x2="123.12" y2="307.09" stroke="#86b65c" stroke-width="0.5" />
<line x1="121.03" y1="305.00" x2="121.03" y2="309.18" stroke="#86b65c" stroke-width="0.5" />
<polygon points="133.46,312.96 137.15,315.64 135.74,319.97 131.19,319.97 129.78,315.64" fill="#dfecd4" stroke="#86b65c" stroke-width="0.8" fill-opacity="1"/>
<line x1="131.37" y1="316.84" x2="135.55" y2="316.84" stroke="#86b65c" stroke-width="0.5" />
<line x1="133.46" y1="314.75" x2="133.46" y2="318.93" stroke="#86b65c" stroke-width="0.5" />
<polygon points="133.46,217.02 137.15,219.70 135.74,224.04 131.19,224.04 129.78,219.70" fill="#dfecd4" stroke="#86b65c" stroke-width="0.8" fill-opacity="1"/>
<line x1="131.37" y1="220.90" x2="135.55" y2="220.90" stroke="#86b65c" stroke-width="0.5" />
<line x1="133.46" y1="218.81" x2="133.46" y2="222.99" stroke="#86b65c" stroke-width="0.5" />
<polygon points="135.05,263.71 138.73,266.39 137.33,270.72 132.77,270.72 131.36,266.39" fill="#dfecd4" stroke="#86b65c" stroke-width="0.8" fill-opacity="1"/>
<line x1="132.96" y1="267.59" x2="137.14" y2="267.59" stroke="#86b65c" stroke-width="0.5" />
<line x1="135.05" y1="265.50" x2="135.05" y2="269.68" stroke="#86b65c" stroke-width="0.5" />
<polygon points="136.29,267.26 139.98,269.94 138.57,274.27 134.01,274.27 132.60,269.94" fill="#dfecd4" stroke="#86b65c" stroke-width="0.8" fill-opacity="1"/>
<line x1="134.20" y1="271.13" x2="138.38" y2="271.13" stroke="#86b65c" stroke-width="0.5" />
<line x1="136.29" y1="269.05" x2="136.29" y2="273.22" stroke="#86b65c" stroke-width="0.5" />
<polygon points="138.55,280.56 142.24,283.23 140.83,287.57 136.27,287.57 134.86,283.23" fill="#dfecd4" stroke="#86b65c" stroke-width="0.8" fill-opacity="1"/>
<line x1="136.46" y1="284.43" x2="140.64" y2="284.43" stroke="#86b65c" stroke-width="0.5" />
<line x1="138.55" y1="282.34" x2="138.55" y2="286.52" stroke="#86b65c" stroke-width="0.5" />
<polygon points="144.20,285.28 147.89,287.96 146.48,292.30 141.92,292.30 140.51,287.96" fill="#dfecd4" stroke="#86b65c" stroke-width="0.8" fill-opacity="1"/>
<line x1="142.11" y1="289.16" x2="146.29" y2="289.16" stroke="#86b65c" stroke-width="0.5" />
<line x1="144.20" y1="287.07" x2="144.20" y2="291.25" stroke="#86b65c" stroke-width="0.5" />
<polygon points="156.06,302.13 159.75,304.81 158.34,309.14 153.79,309.14 152.38,304.81" fill="#dfecd4" stroke="#86b65c" stroke-width="0.8" fill-opacity="1"/>
<line x1="153.97" y1="306.00" x2="158.16" y2="306.00" stroke="#86b65c" stroke-width="0.5" />
<line x1="156.06" y1="303.91" x2="156.06" y2="308.09" stroke="#86b65c" stroke-width="0.5" />
<polygon points="156.06,217.02 159.75,219.70 158.34,224.04 153.79,224.04 152.38,219.70" fill="#dfecd4" stroke="#86b65c" stroke-width="0.8" fill-opacity="1"/>
<line x1="153.97" y1="220.90" x2="158.16" y2="220.90" stroke="#86b65c" stroke-width="0.5" />
<line x1="156.06" y1="218.81" x2="156.06" y2="222.99" stroke="#86b65c" stroke-width="0.5" />
<polygon points="156.74,254.45 160.43,257.13 159.02,261.47 154.46,261.47 153.06,257.13" fill="#dfecd4" stroke="#86b65c" stroke-width="0.8" fill-opacity="1"/>
<line x1="154.65" y1="258.33" x2="158.83" y2="258.33" stroke="#86b65c" stroke-width="0.5" />
<line x1="156.74" y1="256.24" x2="156.74" y2="260.42" stroke="#86b65c" stroke-width="0.5" />
<polygon points="159.12,272.18 162.80,274.86 161.39,279.20 156.84,279.20 155.43,274.86" fill="#dfecd4" stroke="#86b65c" stroke-width="0.8" fill-opacity="1"/>
<line x1="157.03" y1="276.06" x2="161.21" y2="276.06" stroke="#86b65c" stroke-width="0.5" />
<line x1="159.12" y1="273.97" x2="159.12" y2="278.15" stroke="#86b65c" stroke-width="0.5" />
<polygon points="159.45,280.56 163.14,283.23 161.73,287.57 157.18,287.57 155.77,283.23" fill="#dfecd4" stroke="#86b65c" stroke-width="0.8" fill-opacity="1"/>
<line x1="157.36" y1="284.43" x2="161.54" y2="284.43" stroke="#86b65c" stroke-width="0.5" />
<line x1="159.45" y1="282.34" x2="159.45" y2="286.52" stroke="#86b65c" stroke-width="0.5" />
<polygon points="166.23,291.39 169.92,294.07 168.51,298.40 163.96,298.40 162.55,294.07" fill="#dfecd4" stroke="#86b65c" stroke-width="0.8" fill-opacity="1"/>
<line x1="164.14" y1="295.27" x2="168.32" y2="295.27" stroke="#86b65c" stroke-width="0.5" />
<line x1="166.23" y1="293.18" x2="166.23" y2="297.36" stroke="#86b65c" stroke-width="0.5" />
<polygon points="176.41,298.78 180.09,301.46 178.68,305.79 174.13,305.79 172.72,301.46" fill="#dfecd4" stroke="#86b65c" stroke-width="0.8" fill-opacity="1"/>
<line x1="174.31" y1="302.65" x2="178.50" y2="302.65" stroke="#86b65c" stroke-width="0.5" />
<line x1="176.41" y1="300.56" x2="176.41" y2="304.74" stroke="#86b65c" stroke-width="0.5" />
<polygon points="178.66,217.02 182.35,219.70 180.94,224.04 176.39,224.04 174.98,219.70" fill="#dfecd4" stroke="#86b65c" stroke-width="0.8" fill-opacity="1"/>
<line x1="176.57" y1="220.90" x2="180.75" y2="220.90" stroke="#86b65c" stroke-width="0.5" />
<line x1="178.66" y1="218.81" x2="178.66" y2="222.99" stroke="#86b65c" stroke-width="0.5" />
<polygon points="179.57,270.21 183.26,272.89 181.85,277.23 177.29,277.23 175.88,272.89" fill="#dfecd4" stroke="#86b65c" stroke-width="0.8" fill-opacity="1"/>
<line x1="177.48" y1="274.09" x2="181.66" y2="274.09" stroke="#86b65c" stroke-width="0.5" />
<line x1="179.57" y1="272.00" x2="179.57" y2="276.18" stroke="#86b65c" stroke-width="0.5" />
<polygon points="180.92,285.97 184.61,288.65 183.20,292.99 178.65,292.99 177.24,288.65" fill="#dfecd4" stroke="#86b65c" stroke-width="0.8" fill-opacity="1"/>
<line x1="178.83" y1="289.85" x2="183.01" y2="289.85" stroke="#86b65c" stroke-width="0.5" />
<line x1="180.92" y1="287.76" x2="180.92" y2="291.94" stroke="#86b65c" stroke-width="0.5" />
<polygon points="183.18,292.87 186.87,295.55 185.46,299.88 180.91,299.88 179.50,295.55" fill="#dfecd4" stroke="#86b65c" stroke-width="0.8" fill-opacity="1"/>
<line x1="181.09" y1="296.75" x2="185.27" y2="296.75" stroke="#86b65c" stroke-width="0.5" />
<line x1="183.18" y1="294.66" x2="183.18" y2="298.83" stroke="#86b65c" stroke-width="0.5" />
<polygon points="189.96,303.70 193.65,306.38 192.24,310.72 187.69,310.72 186.28,306.38" fill="#dfecd4" stroke="#86b65c" stroke-width="0.8" fill-opacity="1"/>
<line x1="187.87" y1="307.58" x2="192.05" y2="307.58" stroke="#86b65c" stroke-width="0.5" />
<line x1="189.96" y1="305.49" x2="189.96" y2="309.67" stroke="#86b65c" stroke-width="0.5" />
<polygon points="201.26,315.52 204.95,318.20 203.54,322.54 198.99,322.54 197.58,318.20" fill="#dfecd4" stroke="#86b65c" stroke-width="0.8" fill-opacity="1"/>
<line x1="199.17" y1="319.40" x2="203.35" y2="319.40" stroke="#86b65c" stroke-width="0.5" />
<line x1="201.26" y1="317.31" x2="201.26" y2="321.49" stroke="#86b65c" stroke-width="0.5" />
<polyline points="42.50,220.90 43.63,237.64 45.89,240.60 48.15,247.49 53.80,251.44 65.10,267.19 65.66,220.90 68.49,232.72 71.09,243.55 76.97,246.51 86.00,263.75 88.26,220.90 90.53,232.23 93.12,242.57 99.23,251.83 110.86,257.34 110.86,220.90 113.46,232.03 115.16,240.01 121.83,247.49 133.01,251.04 133.46,220.90 134.82,232.03 136.29,235.67 137.98,240.60 143.07,241.58 155.73,242.57 156.06,220.90 156.52,220.90 158.89,222.38 166.23,223.85 178.66,225.23 178.66,220.90 180.47,234.00 182.17,236.66 183.86,243.55 188.83,247.49 200.93,251.83" fill="none" stroke="#2eb2ea" stroke-width="1.3"/>
<polygon points="42.50,216.41 46.98,220.90 42.50,225.38 38.02,220.90" fill="#d2ecf9" stroke="#2eb2ea" stroke-width="0.8" fill-opacity="1"/>
<line x1="40.35" y1="220.90" x2="44.65" y2="220.90" stroke="#2eb2ea" stroke-width="0.5" />
<line x1="42.50" y1="218.75" x2="42.50" y2="223.04" stroke="#2eb2ea" stroke-width="0.5" />
<polygon points="43.63,233.16 48.12,237.64 43.63,242.13 39.15,237.64" fill="#d2ecf9" stroke="#2eb2ea" stroke-width="0.8" fill-opacity="1"/>
<line x1="41.48" y1="237.64" x2="45.78" y2="237.64" stroke="#2eb2ea" stroke-width="0.5" />
<line x1="43.63" y1="235.50" x2="43.63" y2="239.79" stroke="#2eb2ea" stroke-width="0.5" />
<polygon points="45.89,236.11 50.38,240.60 45.89,245.08 41.41,240.60" fill="#d2ecf9" stroke="#2eb2ea" stroke-width="0.8" fill-opacity="1"/>
<line x1="43.74" y1="240.60" x2="48.04" y2="240.60" stroke="#2eb2ea" stroke-width="0.5" />
<line x1="45.89" y1="238.45" x2="45.89" y2="242.74" stroke="#2eb2ea" stroke-width="0.5" />
<polygon points="48.15,243.01 52.63,247.49 48.15,251.98 43.66,247.49" fill="#d2ecf9" stroke="#2eb2ea" stroke-width="0.8" fill-opacity="1"/>
<line x1="46.00" y1="247.49" x2="50.30" y2="247.49" stroke="#2eb2ea" stroke-width="0.5" />
<line x1="48.15" y1="245.35" x2="48.15" y2="249.64" stroke="#2eb2ea" stroke-width="0.5" />
<polygon points="53.80,246.95 58.28,251.44 53.80,255.92 49.31,251.44" fill="#d2ecf9" stroke="#2eb2ea" stroke-width="0.8" fill-opacity="1"/>
<line x1="51.65" y1="251.44" x2="55.95" y2="251.44" stroke="#2eb2ea" stroke-width="0.5" />
<line x1="53.80" y1="249.29" x2="53.80" y2="253.58" stroke="#2eb2ea" stroke-width="0.5" />
<polygon points="65.10,262.71 69.58,267.19 65.10,271.68 60.61,267.19" fill="#d2ecf9" stroke="#2eb2ea" stroke-width="0.8" fill-opacity="1"/>
<line x1="62.95" y1="267.19" x2="67.24" y2="267.19" stroke="#2eb2ea" stroke-width="0.5" />
<line x1="65.10" y1="265.05" x2="65.10" y2="269.34" stroke="#2eb2ea" stroke-width="0.5" />
<polygon points="65.66,216.41 70.15,220.90 65.66,225.38 61.18,220.90" fill="#d2ecf9" stroke="#2eb2ea" stroke-width="0.8" fill-opacity="1"/>
<line x1="63.52" y1="220.90" x2="67.81" y2="220.90" stroke="#2eb2ea" stroke-width="0.5" />
<line x1="65.66" y1="218.75" x2="65.66" y2="223.04" stroke="#2eb2ea" stroke-width="0.5" />
<polygon points="68.49,228.23 72.97,232.72 68.49,237.20 64.00,232.72" fill="#d2ecf9" stroke="#2eb2ea" stroke-width="0.8" fill-opacity="1"/>
<line x1="66.34" y1="232.72" x2="70.63" y2="232.72" stroke="#2eb2ea" stroke-width="0.5" />
<line x1="68.49" y1="230.57" x2="68.49" y2="234.86" stroke="#2eb2ea" stroke-width="0.5" />
<polygon points="71.09,239.07 75.57,243.55 71.09,248.04 66.60,243.55" fill="#d2ecf9" stroke="#2eb2ea" stroke-width="0.8" fill-opacity="1"/>
<line x1="68.94" y1="243.55" x2="73.23" y2="243.55" stroke="#2eb2ea" stroke-width="0.5" />
<line x1="71.09" y1="241.41" x2="71.09" y2="245.70" stroke="#2eb2ea" stroke-width="0.5" />
<polygon points="76.97,242.02 81.45,246.51 76.97,251.00 72.48,246.51" fill="#d2ecf9" stroke="#2eb2ea" stroke-width="0.8" fill-opacity="1"/>
<line x1="74.82" y1="246.51" x2="79.11" y2="246.51" stroke="#2eb2ea" stroke-width="0.5" />
<line x1="76.97" y1="244.36" x2="76.97" y2="248.66" stroke="#2eb2ea" stroke-width="0.5" />
<polygon points="86.00,259.26 90.49,263.75 86.00,268.23 81.52,263.75" fill="#d2ecf9" stroke="#2eb2ea" stroke-width="0.8" fill-opacity="1"/>
<line x1="83.86" y1="263.75" x2="88.15" y2="263.75" stroke="#2eb2ea" stroke-width="0.5" />
<line x1="86.00" y1="261.60" x2="86.00" y2="265.89" stroke="#2eb2ea" stroke-width="0.5" />
<polygon points="88.26,216.41 92.75,220.90 88.26,225.38 83.78,220.90" fill="#d2ecf9" stroke="#2eb2ea" stroke-width="0.8" fill-opacity="1"/>
<line x1="86.12" y1="220.90" x2="90.41" y2="220.90" stroke="#2eb2ea" stroke-width="0.5" />
<line x1="88.26" y1="218.75" x2="88.26" y2="223.04" stroke="#2eb2ea" stroke-width="0.5" />
<polygon points="90.53,227.74 95.01,232.23 90.53,236.71 86.04,232.23" fill="#d2ecf9" stroke="#2eb2ea" stroke-width="0.8" fill-opacity="1"/>
<line x1="88.38" y1="232.23" x2="92.67" y2="232.23" stroke="#2eb2ea" stroke-width="0.5" />
<line x1="90.53" y1="230.08" x2="90.53" y2="234.37" stroke="#2eb2ea" stroke-width="0.5" />
<polygon points="93.12,238.08 97.61,242.57 93.12,247.06 88.64,242.57" fill="#d2ecf9" stroke="#2eb2ea" stroke-width="0.8" fill-opacity="1"/>
<line x1="90.98" y1="242.57" x2="95.27" y2="242.57" stroke="#2eb2ea" stroke-width="0.5" />
<line x1="93.12" y1="240.42" x2="93.12" y2="244.72" stroke="#2eb2ea" stroke-width="0.5" />
<polygon points="99.23,247.34 103.71,251.83 99.23,256.31 94.74,251.83" fill="#d2ecf9" stroke="#2eb2ea" stroke-width="0.8" fill-opacity="1"/>
<line x1="97.08" y1="251.83" x2="101.37" y2="251.83" stroke="#2eb2ea" stroke-width="0.5" />
<line x1="99.23" y1="249.68" x2="99.23" y2="253.97" stroke="#2eb2ea" stroke-width="0.5" />
<polygon points="110.86,252.86 115.35,257.34 110.86,261.83 106.38,257.34" fill="#d2ecf9" stroke="#2eb2ea" stroke-width="0.8" fill-opacity="1"/>
<line x1="108.72" y1="257.34" x2="113.01" y2="257.34" stroke="#2eb2ea" stroke-width="0.5" />
<line x1="110.86" y1="255.20" x2="110.86" y2="259.49" stroke="#2eb2ea" stroke-width="0.5" />
<polygon points="110.86,216.41 115.35,220.90 110.86,225.38 106.38,220.90" fill="#d2ecf9" stroke="#2eb2ea" stroke-width="0.8" fill-opacity="1"/>
<line x1="108.72" y1="220.90" x2="113.01" y2="220.90" stroke="#2eb2ea" stroke-width="0.5" />
<line x1="110.86" y1="218.75" x2="110.86" y2="223.04" stroke="#2eb2ea" stroke-width="0.5" />
<polygon points="113.46,227.55 117.95,232.03 113.46,236.52 108.98,232.03" fill="#d2ecf9" stroke="#2eb2ea" stroke-width="0.8" fill-opacity="1"/>
<line x1="111.32" y1="232.03" x2="115.61" y2="232.03" stroke="#2eb2ea" stroke-width="0.5" />
<line x1="113.46" y1="229.89" x2="113.46" y2="234.18" stroke="#2eb2ea" stroke-width="0.5" />
<polygon points="115.16,235.52 119.64,240.01 115.16,244.49 110.67,240.01" fill="#d2ecf9" stroke="#2eb2ea" stroke-width="0.8" fill-opacity="1"/>
<line x1="113.01" y1="240.01" x2="117.30" y2="240.01" stroke="#2eb2ea" stroke-width="0.5" />
<line x1="115.16" y1="237.86" x2="115.16" y2="242.15" stroke="#2eb2ea" stroke-width="0.5" />
<polygon points="121.83,243.01 126.31,247.49 121.83,251.98 117.34,247.49" fill="#d2ecf9" stroke="#2eb2ea" stroke-width="0.8" fill-opacity="1"/>
<line x1="119.68" y1="247.49" x2="123.97" y2="247.49" stroke="#2eb2ea" stroke-width="0.5" />
<line x1="121.83" y1="245.35" x2="121.83" y2="249.64" stroke="#2eb2ea" stroke-width="0.5" />
<polygon points="133.01,246.56 137.50,251.04 133.01,255.53 128.53,251.04" fill="#d2ecf9" stroke="#2eb2ea" stroke-width="0.8" fill-opacity="1"/>
<line x1="130.87" y1="251.04" x2="135.16" y2="251.04" stroke="#2eb2ea" stroke-width="0.5" />
<line x1="133.01" y1="248.90" x2="133.01" y2="253.19" stroke="#2eb2ea" stroke-width="0.5" />
<polygon points="133.46,216.41 137.95,220.90 133.46,225.38 128.98,220.90" fill="#d2ecf9" stroke="#2eb2ea" stroke-width="0.8" fill-opacity="1"/>
<line x1="131.32" y1="220.90" x2="135.61" y2="220.90" stroke="#2eb2ea" stroke-width="0.5" />
<line x1="133.46" y1="218.75" x2="133.46" y2="223.04" stroke="#2eb2ea" stroke-width="0.5" />
<polygon points="134.82,227.55 139.31,232.03 134.82,236.52 130.34,232.03" fill="#d2ecf9" stroke="#2eb2ea" stroke-width="0.8" fill-opacity="1"/>
<line x1="132.68" y1="232.03" x2="136.97" y2="232.03" stroke="#2eb2ea" stroke-width="0.5" />
<line x1="134.82" y1="229.89" x2="134.82" y2="234.18" stroke="#2eb2ea" stroke-width="0.5" />
<polygon points="136.29,231.19 140.77,235.67 136.29,240.16 131.81,235.67" fill="#d2ecf9" stroke="#2eb2ea" stroke-width="0.8" fill-opacity="1"/>
<line x1="134.14" y1="235.67" x2="138.44" y2="235.67" stroke="#2eb2ea" stroke-width="0.5" />
<line x1="136.29" y1="233.53" x2="136.29" y2="237.82" stroke="#2eb2ea" stroke-width="0.5" />
<polygon points="137.98,236.11 142.47,240.60 137.98,245.08 133.50,240.60" fill="#d2ecf9" stroke="#2eb2ea" stroke-width="0.8" fill-opacity="1"/>
<line x1="135.84" y1="240.60" x2="140.13" y2="240.60" stroke="#2eb2ea" stroke-width="0.5" />
<line x1="137.98" y1="238.45" x2="137.98" y2="242.74" stroke="#2eb2ea" stroke-width="0.5" />
<polygon points="143.07,237.10 147.56,241.58 143.07,246.07 138.58,241.58" fill="#d2ecf9" stroke="#2eb2ea" stroke-width="0.8" fill-opacity="1"/>
<line x1="140.92" y1="241.58" x2="145.22" y2="241.58" stroke="#2eb2ea" stroke-width="0.5" />
<line x1="143.07" y1="239.44" x2="143.07" y2="243.73" stroke="#2eb2ea" stroke-width="0.5" />
<polygon points="155.73,238.08 160.21,242.57 155.73,247.06 151.24,242.57" fill="#d2ecf9" stroke="#2eb2ea" stroke-width="0.8" fill-opacity="1"/>
<line x1="153.58" y1="242.57" x2="157.87" y2="242.57" stroke="#2eb2ea" stroke-width="0.5" />
<line x1="155.73" y1="240.42" x2="155.73" y2="244.72" stroke="#2eb2ea" stroke-width="0.5" />
<polygon points="156.06,216.41 160.55,220.90 156.06,225.38 151.58,220.90" fill="#d2ecf9" stroke="#2eb2ea" stroke-width="0.8" fill-opacity="1"/>
<line x1="153.92" y1="220.90" x2="158.21" y2="220.90" stroke="#2eb2ea" stroke-width="0.5" />
<line x1="156.06" y1="218.75" x2="156.06" y2="223.04" stroke="#2eb2ea" stroke-width="0.5" />
<polygon points="156.52,216.41 161.00,220.90 156.52,225.38 152.03,220.90" fill="#d2ecf9" stroke="#2eb2ea" stroke-width="0.8" fill-opacity="1"/>
<line x1="154.37" y1="220.90" x2="158.66" y2="220.90" stroke="#2eb2ea" stroke-width="0.5" />
<line x1="156.52" y1="218.75" x2="156.52" y2="223.04" stroke="#2eb2ea" stroke-width="0.5" />
<polygon points="158.89,217.89 163.38,222.38 158.89,226.86 154.40,222.38" fill="#d2ecf9" stroke="#2eb2ea" stroke-width="0.8" fill-opacity="1"/>
<line x1="156.74" y1="222.38" x2="161.03" y2="222.38" stroke="#2eb2ea" stroke-width="0.5" />
<line x1="158.89" y1="220.23" x2="158.89" y2="224.52" stroke="#2eb2ea" stroke-width="0.5" />
<polygon points="166.23,219.37 170.72,223.85 166.23,228.34 161.75,223.85" fill="#d2ecf9" stroke="#2eb2ea" stroke-width="0.8" fill-opacity="1"/>
<line x1="164.09" y1="223.85" x2="168.38" y2="223.85" stroke="#2eb2ea" stroke-width="0.5" />
<line x1="166.23" y1="221.71" x2="166.23" y2="226.00" stroke="#2eb2ea" stroke-width="0.5" />
<polygon points="178.66,220.75 183.15,225.23 178.66,229.72 174.18,225.23" fill="#d2ecf9" stroke="#2eb2ea" stroke-width="0.8" fill-opacity="1"/>
<line x1="176.52" y1="225.23" x2="180.81" y2="225.23" stroke="#2eb2ea" stroke-width="0.5" />
<line x1="178.66" y1="223.09" x2="178.66" y2="227.38" stroke="#2eb2ea" stroke-width="0.5" />
<polygon points="178.66,216.41 183.15,220.90 178.66,225.38 174.18,220.90" fill="#d2ecf9" stroke="#2eb2ea" stroke-width="0.8" fill-opacity="1"/>
<line x1="176.52" y1="220.90" x2="180.81" y2="220.90" stroke="#2eb2ea" stroke-width="0.5" />
<line x1="178.66" y1="218.75" x2="178.66" y2="223.04" stroke="#2eb2ea" stroke-width="0.5" />
<polygon points="180.47,229.52 184.96,234.00 180.47,238.49 175.99,234.00" fill="#d2ecf9" stroke="#2eb2ea" stroke-width="0.8" fill-opacity="1"/>
<line x1="178.33" y1="234.00" x2="182.62" y2="234.00" stroke="#2eb2ea" stroke-width="0.5" />
<line x1="180.47" y1="231.86" x2="180.47" y2="236.15" stroke="#2eb2ea" stroke-width="0.5" />
<polygon points="182.17,232.17 186.65,236.66 182.17,241.14 177.68,236.66" fill="#d2ecf9" stroke="#2eb2ea" stroke-width="0.8" fill-opacity="1"/>
<line x1="180.02" y1="236.66" x2="184.31" y2="236.66" stroke="#2eb2ea" stroke-width="0.5" />
<line x1="182.17" y1="234.51" x2="182.17" y2="238.80" stroke="#2eb2ea" stroke-width="0.5" />
<polygon points="183.86,239.07 188.35,243.55 183.86,248.04 179.38,243.55" fill="#d2ecf9" stroke="#2eb2ea" stroke-width="0.8" fill-opacity="1"/>
<line x1="181.72" y1="243.55" x2="186.01" y2="243.55" stroke="#2eb2ea" stroke-width="0.5" />
<line x1="183.86" y1="241.41" x2="183.86" y2="245.70" stroke="#2eb2ea" stroke-width="0.5" />
<polygon points="188.83,243.01 193.32,247.49 188.83,251.98 184.35,247.49" fill="#d2ecf9" stroke="#2eb2ea" stroke-width="0.8" fill-opacity="1"/>
<line x1="186.69" y1="247.49" x2="190.98" y2="247.49" stroke="#2eb2ea" stroke-width="0.5" />
<line x1="188.83" y1="245.35" x2="188.83" y2="249.64" stroke="#2eb2ea" stroke-width="0.5" />
<polygon points="200.93,247.34 205.41,251.83 200.93,256.31 196.44,251.83" fill="#d2ecf9" stroke="#2eb2ea" stroke-width="0.8" fill-opacity="1"/>
<line x1="198.78" y1="251.83" x2="203.07" y2="251.83" stroke="#2eb2ea" stroke-width="0.5" />
<line x1="200.93" y1="249.68" x2="200.93" y2="253.97" stroke="#2eb2ea" stroke-width="0.5" />
<line x1="44.50" y1="195.3" x2="56.90" y2="195.3" stroke="#dc3c86" stroke-width="1.1" stroke-dasharray="2.5,1.2"/>
<polygon points="50.70,191.80 53.73,193.55 53.73,197.05 50.70,198.80 47.67,197.05 47.67,193.55" fill="#f6d4e4" stroke="#dc3c86" stroke-width="0.8" fill-opacity="1"/>
<text x="58.70" y="198.20" font-size="8.1" text-anchor="start" fill="#111" >CoNC-MSi1</text>
<line x1="106.00" y1="195.3" x2="118.40" y2="195.3" stroke="#86b65c" stroke-width="1.1" stroke-dasharray="2.5,1.2"/>
<polygon points="112.20,191.73 115.60,194.20 114.30,198.19 110.10,198.19 108.80,194.20" fill="#dfecd4" stroke="#86b65c" stroke-width="0.8" fill-opacity="1"/>
<text x="120.20" y="198.20" font-size="8.1" text-anchor="start" fill="#111" >CoNC-MSi2</text>
<line x1="44.50" y1="208.4" x2="56.90" y2="208.4" stroke="#2eb2ea" stroke-width="1.1" stroke-dasharray="2.5,1.2"/>
<polygon points="50.70,204.38 54.73,208.40 50.70,212.43 46.68,208.40" fill="#d2ecf9" stroke="#2eb2ea" stroke-width="0.8" fill-opacity="1"/>
<text x="58.70" y="211.30" font-size="8.1" text-anchor="start" fill="#111" >CoNC-Si</text>
<text x="193.20" y="205.30" font-size="8.4" text-anchor="middle" fill="#111" >Chemical</text>
<text x="193.00" y="214.60" font-size="8.4" text-anchor="middle" fill="#111" >rinsing</text>
<line x1="194.70" y1="218.00" x2="194.70" y2="231.00" stroke="#111" stroke-width="0.8" />
<polygon points="194.7,233.5 193.0,229.0 196.4,229.0" fill="#111"/>
<text transform="translate(233.00 184.40) scale(1 1.05)" font-size="13.0" font-weight="bold" fill="#111">e</text>
<rect x="279.2" y="191.2" width="125.2" height="34.5" fill="url(#photo)"/>
<rect x="289.3" y="197.0" width="108.3" height="15.5" rx="1" fill="url(#ruler)" stroke="#8e8e8c" stroke-width="0.7"/>
<line x1="290" y1="198.2" x2="397" y2="198.2" stroke="#e8e8e6" stroke-width="0.8"/>
<text x="292.20" y="204.4" font-size="4.4" text-anchor="middle" fill="#2a2a2a" font-weight="bold">0</text>
<line x1="292.20" y1="198.60" x2="292.20" y2="200.20" stroke="#555" stroke-width="0.5" />
<text x="298.90" y="204.4" font-size="4.4" text-anchor="middle" fill="#2a2a2a" font-weight="bold">1</text>
<line x1="298.90" y1="198.60" x2="298.90" y2="200.20" stroke="#555" stroke-width="0.5" />
<text x="305.60" y="204.4" font-size="4.4" text-anchor="middle" fill="#2a2a2a" font-weight="bold">2</text>
<line x1="305.60" y1="198.60" x2="305.60" y2="200.20" stroke="#555" stroke-width="0.5" />
<text x="312.30" y="204.4" font-size="4.4" text-anchor="middle" fill="#2a2a2a" font-weight="bold">3</text>
<line x1="312.30" y1="198.60" x2="312.30" y2="200.20" stroke="#555" stroke-width="0.5" />
<text x="319.00" y="204.4" font-size="4.4" text-anchor="middle" fill="#2a2a2a" font-weight="bold">4</text>
<line x1="319.00" y1="198.60" x2="319.00" y2="200.20" stroke="#555" stroke-width="0.5" />
<text x="325.70" y="204.4" font-size="4.4" text-anchor="middle" fill="#2a2a2a" font-weight="bold">5</text>
<line x1="325.70" y1="198.60" x2="325.70" y2="200.20" stroke="#555" stroke-width="0.5" />
<text x="332.40" y="204.4" font-size="4.4" text-anchor="middle" fill="#2a2a2a" font-weight="bold">6</text>
<line x1="332.40" y1="198.60" x2="332.40" y2="200.20" stroke="#555" stroke-width="0.5" />
<text x="339.10" y="204.4" font-size="4.4" text-anchor="middle" fill="#2a2a2a" font-weight="bold">7</text>
<line x1="339.10" y1="198.60" x2="339.10" y2="200.20" stroke="#555" stroke-width="0.5" />
<text x="345.80" y="204.4" font-size="4.4" text-anchor="middle" fill="#2a2a2a" font-weight="bold">8</text>
<line x1="345.80" y1="198.60" x2="345.80" y2="200.20" stroke="#555" stroke-width="0.5" />
<text x="352.50" y="204.4" font-size="4.4" text-anchor="middle" fill="#2a2a2a" font-weight="bold">9</text>
<line x1="352.50" y1="198.60" x2="352.50" y2="200.20" stroke="#555" stroke-width="0.5" />
<text x="359.20" y="204.4" font-size="4.4" text-anchor="middle" fill="#2a2a2a" font-weight="bold">10</text>
<line x1="359.20" y1="198.60" x2="359.20" y2="200.20" stroke="#555" stroke-width="0.5" />
<text x="365.90" y="204.4" font-size="4.4" text-anchor="middle" fill="#2a2a2a" font-weight="bold">11</text>
<line x1="365.90" y1="198.60" x2="365.90" y2="200.20" stroke="#555" stroke-width="0.5" />
<text x="372.60" y="204.4" font-size="4.4" text-anchor="middle" fill="#2a2a2a" font-weight="bold">12</text>
<line x1="372.60" y1="198.60" x2="372.60" y2="200.20" stroke="#555" stroke-width="0.5" />
<text x="379.30" y="204.4" font-size="4.4" text-anchor="middle" fill="#2a2a2a" font-weight="bold">13</text>
<line x1="379.30" y1="198.60" x2="379.30" y2="200.20" stroke="#555" stroke-width="0.5" />
<text x="386.00" y="204.4" font-size="4.4" text-anchor="middle" fill="#2a2a2a" font-weight="bold">14</text>
<line x1="386.00" y1="198.60" x2="386.00" y2="200.20" stroke="#555" stroke-width="0.5" />
<text x="392.70" y="204.4" font-size="4.4" text-anchor="middle" fill="#2a2a2a" font-weight="bold">15</text>
<line x1="392.70" y1="198.60" x2="392.70" y2="200.20" stroke="#555" stroke-width="0.5" />
<text x="383.5" y="209.6" font-size="3.6" text-anchor="middle" fill="#333" font-weight="bold">SUPERMAN</text>
<ellipse cx="315" cy="209.5" rx="14" ry="1.6" fill="#e2e2e0" fill-opacity="0.7"/>
<line x1="296.00" y1="217.60" x2="388.00" y2="217.60" stroke="#d8d2c0" stroke-width="2.6" />
<line x1="296.00" y1="217.60" x2="388.00" y2="217.60" stroke="#8c7a44" stroke-width="1.3" />
<rect x="295" y="219.8" width="93" height="3.4" fill="#d4d4d2" fill-opacity="0.7"/>
<rect x="279.6" y="213.4" width="8" height="9.6" rx="1" fill="url(#nut)"/>
<rect x="287.3" y="214.0" width="12.5" height="8.6" rx="0.8" fill="url(#silv)" stroke="#6a665e" stroke-width="0.4"/>
<rect x="384.6" y="212.6" width="10.5" height="9.4" rx="1" fill="url(#nut)"/>
<rect x="395.1" y="212.9" width="1.6" height="8.8" fill="#9a968e"/>
<rect x="396.7" y="212.6" width="7.2" height="9.4" rx="1" fill="url(#nut)"/>
<line x1="327.00" y1="221.90" x2="354.00" y2="221.90" stroke="#ffffff" stroke-width="1.3" />
<polygon points="356.6,221.9 352.6,219.9 352.6,223.9" fill="#ffffff"/>
<polyline points="279.6,217.9 258.9,217.9 258.9,288" fill="none" stroke="#c0a262" stroke-width="1.4"/>
<polyline points="403.8,217.6 428.2,217.6 428.2,282" fill="none" stroke="#98bae6" stroke-width="1.6"/>
<polygon points="238.4,247.6 247.2,253.0 247.6,257.4 238.8,251.6" fill="#bcbcbc"/>
<polygon points="247.2,253.0 275.6,241.0 275.6,245.2 247.6,257.4" fill="#d2d2d2"/>
<polygon points="238.4,247.6 267.6,235.4 275.6,241.0 247.2,253.0" fill="url(#pumpg)" stroke="#bdbdbd" stroke-width="0.5"/>
<polygon points="241.5,247.4 267.2,236.8 272.5,240.8 246.8,251.2" fill="none" stroke="#dcdcdc" stroke-width="0.8"/>
<text transform="translate(258.0 248.2) rotate(-26)" font-size="8.2" text-anchor="middle" fill="#747474" font-weight="bold">pump</text>
<text transform="translate(257.4 247.5) rotate(-26)" font-size="8.2" text-anchor="middle" fill="#ffffff" font-weight="bold">pump</text>
<line x1="258.90" y1="236.00" x2="258.90" y2="256.00" stroke="#c0a262" stroke-width="1.4" />
<path d="M295.4,242.1 L307.2,242.1 L331.7,231.8 L336.1,242.1 L396.3,242.1 Q404.3,242.1 404.3,250.1 L404.3,296 Q404.3,304 396.3,304 L295.4,304 Q287.4,304 287.4,296 L287.4,250.1 Q287.4,242.1 295.4,242.1 Z" fill="#ffffff" stroke="#c6d3e4" stroke-width="1"/>
<circle cx="298" cy="251.5" r="5.1" fill="url(#wsph)"/>
<circle cx="322.5" cy="251.0" r="5.1" fill="url(#wsph)"/>
<circle cx="345" cy="251.5" r="5.1" fill="url(#wsph)"/>
<circle cx="367.5" cy="251.5" r="5.1" fill="url(#wsph)"/>
<circle cx="391" cy="252" r="5.1" fill="url(#wsph)"/>
<circle cx="299.5" cy="260.5" r="5.1" fill="url(#wsph)"/>
<circle cx="322" cy="261.2" r="5.1" fill="url(#wsph)"/>
<circle cx="344" cy="260.5" r="5.1" fill="url(#wsph)"/>
<circle cx="366" cy="261" r="5.1" fill="url(#wsph)"/>
<circle cx="390.6" cy="261.9" r="5.1" fill="url(#wsph)"/>
<circle cx="305.5" cy="266.8" r="5.1" fill="url(#wsph)"/>
<circle cx="314.7" cy="265.4" r="5.1" fill="url(#wsph)"/>
<circle cx="329.5" cy="264" r="5.1" fill="url(#wsph)"/>
<circle cx="339.4" cy="264" r="5.1" fill="url(#wsph)"/>
<circle cx="353" cy="265" r="5.1" fill="url(#wsph)"/>
<circle cx="362" cy="265" r="5.1" fill="url(#wsph)"/>
<circle cx="385.5" cy="268" r="5.1" fill="url(#wsph)"/>
<circle cx="311.2" cy="273.2" r="5.1" fill="url(#wsph)"/>
<circle cx="335.2" cy="269.6" r="5.1" fill="url(#wsph)"/>
<circle cx="357" cy="270" r="5.1" fill="url(#wsph)"/>
<circle cx="383" cy="275.9" r="5.1" fill="url(#wsph)"/>
<circle cx="389" cy="272" r="5.1" fill="url(#wsph)"/>
<circle cx="335.9" cy="279.5" r="5.1" fill="url(#wsph)"/>
<circle cx="359" cy="279.7" r="5.1" fill="url(#wsph)"/>
<circle cx="381" cy="281" r="5.1" fill="url(#wsph)"/>
<circle cx="312.0" cy="254.6" r="8.5" fill="url(#gsph)"/>
<circle cx="312.0" cy="254.6" r="8.5" fill="url(#dots)"/>
<path d="M312.0,254.6 L312.00,246.10 A8.5,8.5 0 0 1 319.36,258.85 Z" fill="#2a7a52"/>
<circle cx="333.4" cy="254.6" r="8.5" fill="url(#gsph)"/>
<circle cx="333.4" cy="254.6" r="8.5" fill="url(#dots)"/>
<path d="M333.4,254.6 L333.40,246.10 A8.5,8.5 0 0 1 340.76,258.85 Z" fill="#2a7a52"/>
<circle cx="356.0" cy="254.9" r="8.5" fill="url(#gsph)"/>
<circle cx="356.0" cy="254.9" r="8.5" fill="url(#dots)"/>
<path d="M356.0,254.9 L356.00,246.40 A8.5,8.5 0 0 1 363.36,259.15 Z" fill="#2a7a52"/>
<circle cx="379.8" cy="254.6" r="8.5" fill="url(#gsph)"/>
<circle cx="379.8" cy="254.6" r="8.5" fill="url(#dots)"/>
<path d="M379.8,254.6 L379.80,246.10 A8.5,8.5 0 0 1 387.16,258.85 Z" fill="#2a7a52"/>
<circle cx="323.8" cy="274.6" r="8.5" fill="url(#gsph)"/>
<circle cx="323.8" cy="274.6" r="8.5" fill="url(#dots)"/>
<path d="M323.8,274.6 L323.80,266.10 A8.5,8.5 0 0 1 331.16,278.85 Z" fill="#2a7a52"/>
<circle cx="346.3" cy="274.0" r="8.5" fill="url(#gsph)"/>
<circle cx="346.3" cy="274.0" r="8.5" fill="url(#dots)"/>
<path d="M346.3,274.0 L346.30,265.50 A8.5,8.5 0 0 1 353.66,278.25 Z" fill="#2a7a52"/>
<circle cx="372.9" cy="274.7" r="8.5" fill="url(#gsph)"/>
<circle cx="372.9" cy="274.7" r="8.5" fill="url(#dots)"/>
<path d="M372.9,274.7 L372.90,266.20 A8.5,8.5 0 0 1 380.26,278.95 Z" fill="#2a7a52"/>
<circle cx="305.1" cy="294.6" r="4.5" fill="url(#gsph)"/>
<circle cx="305.1" cy="294.6" r="4.5" fill="url(#dots)"/>
<path d="M305.1,294.6 L305.10,290.10 A4.5,4.5 0 0 1 309.00,296.85 Z" fill="#2a7a52"/>
<circle cx="363.9" cy="294.6" r="4.6" fill="url(#wsph)"/>
<text x="312.80" y="297.80" font-size="7.0" text-anchor="start" fill="#1a1a1a" >CoNC-MSi1</text>
<text x="372.2" y="297.6" font-size="7.2" fill="#111">Al<tspan font-size="4.9" dy="1.8">2</tspan><tspan dy="-1.8">O</tspan><tspan font-size="4.9" dy="1.8">3</tspan></text>
<path d="M246.8,277.0 L272.9,277.0 L272.29999999999995,305.8 Q271.9,309.40000000000003 267.9,309.40000000000003 L251.8,309.40000000000003 Q247.8,309.40000000000003 247.4,305.8 Z" fill="#dfe2e4" fill-opacity="0.7"/>
<path d="M248.0,286.0 L271.7,286.0 L271.5,305.8 Q271.29999999999995,308.8 267.9,308.8 L251.8,308.8 Q248.4,308.8 248.20000000000002,305.8 Z" fill="url(#liq1)"/>
<ellipse cx="259.85" cy="286.0" rx="11.749999999999982" ry="1.7" fill="#c6b888"/>
<ellipse cx="259.85" cy="277.0" rx="13.049999999999983" ry="2.2" fill="none" stroke="#9c9c9c" stroke-width="0.8"/>
<path d="M246.8,277.0 L247.4,305.8 Q247.8,309.40000000000003 251.8,309.40000000000003 L267.9,309.40000000000003 Q271.9,309.40000000000003 272.29999999999995,305.8 L272.9,277.0" fill="none" stroke="#8c8c8c" stroke-width="0.9"/>
<line x1="249.8" y1="280.8" x2="250.0" y2="304.8" stroke="#ffffff" stroke-opacity="0.45" stroke-width="1"/>
<line x1="258.90" y1="256.00" x2="258.90" y2="287.50" stroke="#c0a262" stroke-width="1.4" />
<text x="259.8" y="294.7" font-size="5.6" fill="#ffffff">PMS</text>
<text x="250.4" y="306.4" font-size="4.9" fill="#ffffff">4-CP</text>
<polygon points="254.3,294.8 256.4,296.0 256.4,298.4 254.3,299.6 252.2,298.4 252.2,296.0" fill="none" stroke="#f0f0f0" stroke-width="0.6"/>
<circle cx="252.3" cy="293.3" r="0.8" fill="#e03020"/>
<circle cx="256.1" cy="301.3" r="0.7" fill="#60c060"/>
<circle cx="257.3" cy="295.2" r="0.5" fill="#ffffff"/>
<circle cx="251.3" cy="299.3" r="0.5" fill="#ffffff"/>
<circle cx="265.2" cy="300.5" r="0.9" fill="#e8c020"/>
<circle cx="263.3" cy="299.3" r="0.8" fill="#e03020"/>
<circle cx="267.1" cy="299.0" r="0.8" fill="#e03020"/>
<circle cx="265.6" cy="302.9" r="0.8" fill="#e03020"/>
<circle cx="266.6" cy="297.4" r="0.7" fill="#e03020"/>
<circle cx="268.6" cy="296.7" r="0.7" fill="#e03020"/>
<circle cx="269.4" cy="295.6" r="0.45" fill="#ffffff"/>
<path d="M415.8,276.3 L439.8,276.3 L439.2,305.4 Q438.8,309.0 434.8,309.0 L420.8,309.0 Q416.8,309.0 416.40000000000003,305.4 Z" fill="#dfe2e4" fill-opacity="0.7"/>
<path d="M417.0,285.0 L438.6,285.0 L438.40000000000003,305.4 Q438.2,308.4 434.8,308.4 L420.8,308.4 Q417.40000000000003,308.4 417.2,305.4 Z" fill="url(#liq2)"/>
<ellipse cx="427.8" cy="285.0" rx="10.7" ry="1.7" fill="#d2e0ec"/>
<ellipse cx="427.8" cy="276.3" rx="12.0" ry="2.2" fill="none" stroke="#9c9c9c" stroke-width="0.8"/>
<path d="M415.8,276.3 L416.40000000000003,305.4 Q416.8,309.0 420.8,309.0 L434.8,309.0 Q438.8,309.0 439.2,305.4 L439.8,276.3" fill="none" stroke="#8c8c8c" stroke-width="0.9"/>
<line x1="418.8" y1="280.1" x2="419.0" y2="304.4" stroke="#ffffff" stroke-opacity="0.45" stroke-width="1"/>
<line x1="428.20" y1="272.00" x2="428.20" y2="282.50" stroke="#98bae6" stroke-width="1.6" />
<text x="259.30" y="319.60" font-size="9.6" text-anchor="middle" fill="#111" >Influent</text>
<text x="429.50" y="319.60" font-size="9.6" text-anchor="middle" fill="#111" >Effluent</text>
<text transform="translate(449.60 184.00) scale(1 1.05)" font-size="13.0" font-weight="bold" fill="#111">f</text>
<rect x="479.30" y="183.80" width="180.00" height="145.20" fill="none" stroke="#222" stroke-width="0.9"/>
<line x1="476.30" y1="316.30" x2="479.30" y2="316.30" stroke="#222" stroke-width="0.9" />
<text x="474.10" y="319.40" font-size="8.6" text-anchor="end" fill="#111" >0.0</text>
<line x1="476.30" y1="291.10" x2="479.30" y2="291.10" stroke="#222" stroke-width="0.9" />
<text x="474.10" y="294.20" font-size="8.6" text-anchor="end" fill="#111" >0.2</text>
<line x1="476.30" y1="265.90" x2="479.30" y2="265.90" stroke="#222" stroke-width="0.9" />
<text x="474.10" y="269.00" font-size="8.6" text-anchor="end" fill="#111" >0.4</text>
<line x1="476.30" y1="240.70" x2="479.30" y2="240.70" stroke="#222" stroke-width="0.9" />
<text x="474.10" y="243.80" font-size="8.6" text-anchor="end" fill="#111" >0.6</text>
<line x1="476.30" y1="215.50" x2="479.30" y2="215.50" stroke="#222" stroke-width="0.9" />
<text x="474.10" y="218.60" font-size="8.6" text-anchor="end" fill="#111" >0.8</text>
<line x1="476.30" y1="190.30" x2="479.30" y2="190.30" stroke="#222" stroke-width="0.9" />
<text x="474.10" y="193.40" font-size="8.6" text-anchor="end" fill="#111" >1.0</text>
<line x1="478.00" y1="303.70" x2="479.30" y2="303.70" stroke="#222" stroke-width="0.7" />
<line x1="478.00" y1="278.50" x2="479.30" y2="278.50" stroke="#222" stroke-width="0.7" />
<line x1="478.00" y1="253.30" x2="479.30" y2="253.30" stroke="#222" stroke-width="0.7" />
<line x1="478.00" y1="228.10" x2="479.30" y2="228.10" stroke="#222" stroke-width="0.7" />
<line x1="478.00" y1="202.90" x2="479.30" y2="202.90" stroke="#222" stroke-width="0.7" />
<line x1="656.30" y1="328.50" x2="659.30" y2="328.50" stroke="#222" stroke-width="0.9" />
<text x="662.60" y="331.60" font-size="8.6" text-anchor="start" fill="#111" >0</text>
<line x1="656.30" y1="294.50" x2="659.30" y2="294.50" stroke="#222" stroke-width="0.9" />
<text x="662.60" y="297.60" font-size="8.6" text-anchor="start" fill="#111" >20</text>
<line x1="656.30" y1="260.50" x2="659.30" y2="260.50" stroke="#222" stroke-width="0.9" />
<text x="662.60" y="263.60" font-size="8.6" text-anchor="start" fill="#111" >40</text>
<line x1="656.30" y1="226.50" x2="659.30" y2="226.50" stroke="#222" stroke-width="0.9" />
<text x="662.60" y="229.60" font-size="8.6" text-anchor="start" fill="#111" >60</text>
<line x1="656.30" y1="192.50" x2="659.30" y2="192.50" stroke="#222" stroke-width="0.9" />
<text x="662.60" y="195.60" font-size="8.6" text-anchor="start" fill="#111" >80</text>
<line x1="658.00" y1="311.50" x2="659.30" y2="311.50" stroke="#222" stroke-width="0.7" />
<line x1="658.00" y1="277.50" x2="659.30" y2="277.50" stroke="#222" stroke-width="0.7" />
<line x1="658.00" y1="243.50" x2="659.30" y2="243.50" stroke="#222" stroke-width="0.7" />
<line x1="658.00" y1="209.50" x2="659.30" y2="209.50" stroke="#222" stroke-width="0.7" />
<line x1="487.30" y1="329.00" x2="487.30" y2="331.40" stroke="#222" stroke-width="0.9" />
<text x="487.30" y="340.30" font-size="8.3" text-anchor="middle" fill="#111" >0</text>
<line x1="520.00" y1="329.00" x2="520.00" y2="331.40" stroke="#222" stroke-width="0.9" />
<text x="520.00" y="340.30" font-size="8.3" text-anchor="middle" fill="#111" >40</text>
<line x1="552.70" y1="329.00" x2="552.70" y2="331.40" stroke="#222" stroke-width="0.9" />
<text x="552.70" y="340.30" font-size="8.3" text-anchor="middle" fill="#111" >80</text>
<line x1="585.40" y1="329.00" x2="585.40" y2="331.40" stroke="#222" stroke-width="0.9" />
<text x="585.40" y="340.30" font-size="8.3" text-anchor="middle" fill="#111" >120</text>
<line x1="618.10" y1="329.00" x2="618.10" y2="331.40" stroke="#222" stroke-width="0.9" />
<text x="618.10" y="340.30" font-size="8.3" text-anchor="middle" fill="#111" >160</text>
<line x1="650.80" y1="329.00" x2="650.80" y2="331.40" stroke="#222" stroke-width="0.9" />
<text x="650.80" y="340.30" font-size="8.3" text-anchor="middle" fill="#111" >200</text>
<line x1="503.65" y1="329.00" x2="503.65" y2="330.30" stroke="#222" stroke-width="0.7" />
<line x1="536.35" y1="329.00" x2="536.35" y2="330.30" stroke="#222" stroke-width="0.7" />
<line x1="569.05" y1="329.00" x2="569.05" y2="330.30" stroke="#222" stroke-width="0.7" />
<line x1="601.75" y1="329.00" x2="601.75" y2="330.30" stroke="#222" stroke-width="0.7" />
<line x1="634.45" y1="329.00" x2="634.45" y2="330.30" stroke="#222" stroke-width="0.7" />
<text x="569.00" y="350.50" font-size="8.9" text-anchor="middle" fill="#111" >Time (h)</text>
<text transform="translate(456.2 265.5) rotate(-90)" font-size="9" fill="#111">C/C<tspan font-size="6" dy="2.2">0</tspan></text>
<text transform="translate(681.8 255.0) rotate(-90)" font-size="8.8" text-anchor="middle" fill="#111">TOC removal (%)</text>
<circle cx="487.30" cy="316.30" r="3.3" fill="#d43a7e"/>
<circle cx="488.44" cy="316.30" r="3.3" fill="#d43a7e"/>
<circle cx="489.59" cy="316.30" r="3.3" fill="#d43a7e"/>
<circle cx="490.73" cy="316.30" r="3.3" fill="#d43a7e"/>
<circle cx="491.88" cy="316.30" r="3.3" fill="#d43a7e"/>
<circle cx="493.02" cy="316.30" r="3.3" fill="#d43a7e"/>
<circle cx="494.17" cy="316.30" r="3.3" fill="#d43a7e"/>
<circle cx="495.31" cy="316.30" r="3.3" fill="#d43a7e"/>
<circle cx="496.46" cy="316.30" r="3.3" fill="#d43a7e"/>
<circle cx="497.60" cy="316.30" r="3.3" fill="#d43a7e"/>
<circle cx="498.75" cy="316.30" r="3.3" fill="#d43a7e"/>
<circle cx="499.89" cy="316.30" r="3.3" fill="#d43a7e"/>
<circle cx="501.03" cy="316.30" r="3.3" fill="#d43a7e"/>
<circle cx="502.18" cy="316.30" r="3.3" fill="#d43a7e"/>
<circle cx="503.32" cy="316.30" r="3.3" fill="#d43a7e"/>
<circle cx="504.47" cy="316.30" r="3.3" fill="#d43a7e"/>
<circle cx="505.61" cy="316.30" r="3.3" fill="#d43a7e"/>
<circle cx="506.76" cy="316.30" r="3.3" fill="#d43a7e"/>
<circle cx="507.90" cy="316.30" r="3.3" fill="#d43a7e"/>
<circle cx="509.05" cy="316.30" r="3.3" fill="#d43a7e"/>
<circle cx="510.19" cy="316.30" r="3.3" fill="#d43a7e"/>
<circle cx="511.33" cy="316.30" r="3.3" fill="#d43a7e"/>
<circle cx="512.48" cy="316.30" r="3.3" fill="#d43a7e"/>
<circle cx="513.62" cy="316.30" r="3.3" fill="#d43a7e"/>
<circle cx="514.77" cy="316.30" r="3.3" fill="#d43a7e"/>
<circle cx="515.91" cy="316.30" r="3.3" fill="#d43a7e"/>
<circle cx="517.06" cy="316.30" r="3.3" fill="#d43a7e"/>
<circle cx="518.20" cy="316.30" r="3.3" fill="#d43a7e"/>
<circle cx="519.35" cy="316.30" r="3.3" fill="#d43a7e"/>
<circle cx="520.49" cy="316.30" r="3.3" fill="#d43a7e"/>
<circle cx="521.63" cy="316.30" r="3.3" fill="#d43a7e"/>
<circle cx="522.78" cy="316.30" r="3.3" fill="#d43a7e"/>
<circle cx="523.92" cy="316.30" r="3.3" fill="#d43a7e"/>
<circle cx="525.07" cy="316.30" r="3.3" fill="#d43a7e"/>
<circle cx="526.21" cy="316.30" r="3.3" fill="#d43a7e"/>
<circle cx="527.36" cy="316.30" r="3.3" fill="#d43a7e"/>
<circle cx="528.50" cy="316.30" r="3.3" fill="#d43a7e"/>
<circle cx="529.65" cy="316.30" r="3.3" fill="#d43a7e"/>
<circle cx="530.79" cy="316.30" r="3.3" fill="#d43a7e"/>
<circle cx="531.94" cy="316.30" r="3.3" fill="#d43a7e"/>
<circle cx="533.08" cy="316.30" r="3.3" fill="#d43a7e"/>
<circle cx="534.22" cy="316.30" r="3.3" fill="#d43a7e"/>
<circle cx="535.37" cy="316.30" r="3.3" fill="#d43a7e"/>
<circle cx="536.51" cy="316.30" r="3.3" fill="#d43a7e"/>
<circle cx="537.66" cy="316.30" r="3.3" fill="#d43a7e"/>
<circle cx="538.80" cy="316.30" r="3.3" fill="#d43a7e"/>
<circle cx="539.95" cy="316.30" r="3.3" fill="#d43a7e"/>
<circle cx="541.09" cy="316.30" r="3.3" fill="#d43a7e"/>
<circle cx="542.24" cy="316.30" r="3.3" fill="#d43a7e"/>
<circle cx="543.38" cy="316.30" r="3.3" fill="#d43a7e"/>
<circle cx="544.52" cy="316.30" r="3.3" fill="#d43a7e"/>
<circle cx="545.67" cy="316.30" r="3.3" fill="#d43a7e"/>
<circle cx="546.81" cy="316.30" r="3.3" fill="#d43a7e"/>
<circle cx="547.96" cy="316.30" r="3.3" fill="#d43a7e"/>
<circle cx="549.10" cy="316.30" r="3.3" fill="#d43a7e"/>
<circle cx="550.25" cy="316.30" r="3.3" fill="#d43a7e"/>
<circle cx="551.39" cy="316.30" r="3.3" fill="#d43a7e"/>
<circle cx="552.54" cy="316.30" r="3.3" fill="#d43a7e"/>
<circle cx="553.68" cy="316.30" r="3.3" fill="#d43a7e"/>
<circle cx="554.83" cy="316.30" r="3.3" fill="#d43a7e"/>
<circle cx="555.97" cy="316.30" r="3.3" fill="#d43a7e"/>
<circle cx="557.11" cy="316.30" r="3.3" fill="#d43a7e"/>
<circle cx="558.26" cy="316.30" r="3.3" fill="#d43a7e"/>
<circle cx="559.40" cy="316.30" r="3.3" fill="#d43a7e"/>
<circle cx="560.55" cy="316.30" r="3.3" fill="#d43a7e"/>
<circle cx="561.69" cy="316.30" r="3.3" fill="#d43a7e"/>
<circle cx="562.84" cy="316.30" r="3.3" fill="#d43a7e"/>
<circle cx="563.98" cy="316.30" r="3.3" fill="#d43a7e"/>
<circle cx="565.13" cy="316.30" r="3.3" fill="#d43a7e"/>
<circle cx="566.27" cy="316.30" r="3.3" fill="#d43a7e"/>
<circle cx="567.42" cy="316.30" r="3.3" fill="#d43a7e"/>
<circle cx="568.56" cy="316.30" r="3.3" fill="#d43a7e"/>
<circle cx="569.70" cy="316.30" r="3.3" fill="#d43a7e"/>
<circle cx="570.85" cy="316.30" r="3.3" fill="#d43a7e"/>
<circle cx="571.99" cy="316.30" r="3.3" fill="#d43a7e"/>
<circle cx="573.14" cy="316.30" r="3.3" fill="#d43a7e"/>
<circle cx="574.28" cy="316.30" r="3.3" fill="#d43a7e"/>
<circle cx="575.43" cy="316.30" r="3.3" fill="#d43a7e"/>
<circle cx="576.57" cy="316.30" r="3.3" fill="#d43a7e"/>
<circle cx="577.72" cy="316.30" r="3.3" fill="#d43a7e"/>
<circle cx="578.86" cy="316.30" r="3.3" fill="#d43a7e"/>
<circle cx="580.00" cy="316.30" r="3.3" fill="#d43a7e"/>
<circle cx="581.15" cy="316.30" r="3.3" fill="#d43a7e"/>
<circle cx="582.29" cy="316.30" r="3.3" fill="#d43a7e"/>
<circle cx="583.44" cy="316.30" r="3.3" fill="#d43a7e"/>
<circle cx="584.58" cy="316.30" r="3.3" fill="#d43a7e"/>
<circle cx="585.73" cy="316.30" r="3.3" fill="#d43a7e"/>
<circle cx="586.87" cy="316.30" r="3.3" fill="#d43a7e"/>
<circle cx="588.02" cy="316.30" r="3.3" fill="#d43a7e"/>
<circle cx="589.16" cy="316.30" r="3.3" fill="#d43a7e"/>
<circle cx="590.31" cy="316.30" r="3.3" fill="#d43a7e"/>
<circle cx="591.45" cy="316.30" r="3.3" fill="#d43a7e"/>
<circle cx="592.59" cy="316.30" r="3.3" fill="#d43a7e"/>
<circle cx="593.74" cy="316.30" r="3.3" fill="#d43a7e"/>
<circle cx="594.88" cy="316.30" r="3.3" fill="#d43a7e"/>
<circle cx="596.03" cy="316.30" r="3.3" fill="#d43a7e"/>
<circle cx="597.17" cy="314.28" r="3.3" fill="#d43a7e"/>
<circle cx="598.32" cy="314.28" r="3.3" fill="#d43a7e"/>
<circle cx="599.46" cy="314.28" r="3.3" fill="#d43a7e"/>
<circle cx="600.61" cy="314.28" r="3.3" fill="#d43a7e"/>
<circle cx="601.75" cy="314.28" r="3.3" fill="#d43a7e"/>
<circle cx="602.89" cy="314.28" r="3.3" fill="#d43a7e"/>
<circle cx="604.04" cy="315.54" r="3.3" fill="#d43a7e"/>
<circle cx="605.18" cy="315.54" r="3.3" fill="#d43a7e"/>
<circle cx="606.33" cy="315.54" r="3.3" fill="#d43a7e"/>
<circle cx="607.47" cy="315.54" r="3.3" fill="#d43a7e"/>
<circle cx="608.62" cy="315.54" r="3.3" fill="#d43a7e"/>
<circle cx="609.76" cy="315.54" r="3.3" fill="#d43a7e"/>
<circle cx="610.91" cy="315.54" r="3.3" fill="#d43a7e"/>
<circle cx="612.05" cy="315.54" r="3.3" fill="#d43a7e"/>
<circle cx="613.20" cy="314.28" r="3.3" fill="#d43a7e"/>
<circle cx="614.34" cy="314.28" r="3.3" fill="#d43a7e"/>
<circle cx="615.48" cy="314.28" r="3.3" fill="#d43a7e"/>
<circle cx="616.63" cy="314.28" r="3.3" fill="#d43a7e"/>
<circle cx="617.77" cy="314.28" r="3.3" fill="#d43a7e"/>
<circle cx="618.92" cy="314.28" r="3.3" fill="#d43a7e"/>
<circle cx="620.06" cy="314.28" r="3.3" fill="#d43a7e"/>
<circle cx="621.21" cy="314.28" r="3.3" fill="#d43a7e"/>
<circle cx="622.35" cy="314.28" r="3.3" fill="#d43a7e"/>
<circle cx="623.50" cy="314.28" r="3.3" fill="#d43a7e"/>
<circle cx="624.64" cy="314.28" r="3.3" fill="#d43a7e"/>
<circle cx="625.78" cy="314.28" r="3.3" fill="#d43a7e"/>
<circle cx="626.93" cy="314.28" r="3.3" fill="#d43a7e"/>
<circle cx="628.07" cy="314.28" r="3.3" fill="#d43a7e"/>
<circle cx="629.22" cy="314.28" r="3.3" fill="#d43a7e"/>
<circle cx="630.36" cy="314.28" r="3.3" fill="#d43a7e"/>
<circle cx="631.51" cy="314.28" r="3.3" fill="#d43a7e"/>
<circle cx="632.65" cy="314.28" r="3.3" fill="#d43a7e"/>
<circle cx="633.80" cy="314.28" r="3.3" fill="#d43a7e"/>
<circle cx="634.94" cy="314.28" r="3.3" fill="#d43a7e"/>
<circle cx="636.09" cy="314.28" r="3.3" fill="#d43a7e"/>
<circle cx="637.23" cy="314.28" r="3.3" fill="#d43a7e"/>
<circle cx="638.37" cy="314.28" r="3.3" fill="#d43a7e"/>
<circle cx="639.52" cy="314.28" r="3.3" fill="#d43a7e"/>
<circle cx="640.66" cy="314.28" r="3.3" fill="#d43a7e"/>
<circle cx="641.81" cy="314.28" r="3.3" fill="#d43a7e"/>
<circle cx="642.95" cy="314.28" r="3.3" fill="#d43a7e"/>
<circle cx="644.10" cy="314.28" r="3.3" fill="#d43a7e"/>
<circle cx="645.24" cy="314.28" r="3.3" fill="#d43a7e"/>
<circle cx="646.39" cy="314.28" r="3.3" fill="#d43a7e"/>
<circle cx="647.53" cy="314.28" r="3.3" fill="#d43a7e"/>
<circle cx="648.67" cy="314.28" r="3.3" fill="#d43a7e"/>
<circle cx="649.82" cy="314.28" r="3.3" fill="#d43a7e"/>
<circle cx="650.96" cy="314.28" r="3.3" fill="#d43a7e"/>
<circle cx="618.10" cy="313.78" r="3.4" fill="#d43a7e" stroke="#c02a6c" stroke-width="0.6"/>
<circle cx="623.82" cy="313.78" r="3.4" fill="#d43a7e" stroke="#c02a6c" stroke-width="0.6"/>
<circle cx="629.55" cy="313.78" r="3.4" fill="#d43a7e" stroke="#c02a6c" stroke-width="0.6"/>
<circle cx="635.27" cy="313.78" r="3.4" fill="#d43a7e" stroke="#c02a6c" stroke-width="0.6"/>
<circle cx="640.99" cy="313.78" r="3.4" fill="#d43a7e" stroke="#c02a6c" stroke-width="0.6"/>
<circle cx="646.71" cy="313.78" r="3.4" fill="#d43a7e" stroke="#c02a6c" stroke-width="0.6"/>
<circle cx="491.80" cy="311.26" r="3.4" fill="url(#psph)"/>
<circle cx="499.56" cy="311.26" r="3.4" fill="url(#psph)"/>
<circle cx="502.42" cy="311.89" r="3.4" fill="url(#psph)"/>
<circle cx="515.91" cy="310.38" r="3.4" fill="url(#psph)"/>
<circle cx="536.35" cy="311.26" r="3.4" fill="url(#psph)"/>
<circle cx="650.39" cy="313.78" r="3.4" fill="url(#psph)"/>
<polyline points="536.35,262.37 560.88,248.09 585.40,239.93 609.92,245.03 634.45,245.03 650.80,246.05" fill="none" stroke="#2eb0e8" stroke-width="1.2"/>
<rect x="533.29" y="259.31" width="6.12" height="6.12" fill="#cdeaf8" stroke="#2eb0e8" stroke-width="0.8" fill-opacity="1"/>
<line x1="534.37" y1="262.37" x2="538.33" y2="262.37" stroke="#2eb0e8" stroke-width="0.5" />
<line x1="536.35" y1="260.39" x2="536.35" y2="264.35" stroke="#2eb0e8" stroke-width="0.5" />
<rect x="557.82" y="245.03" width="6.12" height="6.12" fill="#cdeaf8" stroke="#2eb0e8" stroke-width="0.8" fill-opacity="1"/>
<line x1="558.89" y1="248.09" x2="562.86" y2="248.09" stroke="#2eb0e8" stroke-width="0.5" />
<line x1="560.88" y1="246.11" x2="560.88" y2="250.07" stroke="#2eb0e8" stroke-width="0.5" />
<rect x="582.34" y="236.87" width="6.12" height="6.12" fill="#cdeaf8" stroke="#2eb0e8" stroke-width="0.8" fill-opacity="1"/>
<line x1="583.42" y1="239.93" x2="587.38" y2="239.93" stroke="#2eb0e8" stroke-width="0.5" />
<line x1="585.40" y1="237.95" x2="585.40" y2="241.91" stroke="#2eb0e8" stroke-width="0.5" />
<rect x="606.87" y="241.97" width="6.12" height="6.12" fill="#cdeaf8" stroke="#2eb0e8" stroke-width="0.8" fill-opacity="1"/>
<line x1="607.94" y1="245.03" x2="611.90" y2="245.03" stroke="#2eb0e8" stroke-width="0.5" />
<line x1="609.92" y1="243.05" x2="609.92" y2="247.01" stroke="#2eb0e8" stroke-width="0.5" />
<rect x="631.39" y="241.97" width="6.12" height="6.12" fill="#cdeaf8" stroke="#2eb0e8" stroke-width="0.8" fill-opacity="1"/>
<line x1="632.47" y1="245.03" x2="636.43" y2="245.03" stroke="#2eb0e8" stroke-width="0.5" />
<line x1="634.45" y1="243.05" x2="634.45" y2="247.01" stroke="#2eb0e8" stroke-width="0.5" />
<rect x="647.74" y="242.99" width="6.12" height="6.12" fill="#cdeaf8" stroke="#2eb0e8" stroke-width="0.8" fill-opacity="1"/>
<line x1="648.82" y1="246.05" x2="652.78" y2="246.05" stroke="#2eb0e8" stroke-width="0.5" />
<line x1="650.80" y1="244.07" x2="650.80" y2="248.03" stroke="#2eb0e8" stroke-width="0.5" />
<circle cx="498.5" cy="198.6" r="3.5" fill="url(#psph)"/>
<text x="510.70" y="201.50" font-size="8.2" text-anchor="start" fill="#111" >4-CP</text>
<line x1="488.30" y1="210.10" x2="508.10" y2="210.10" stroke="#2eb0e8" stroke-width="1.2" />
<rect x="495.14" y="207.04" width="6.12" height="6.12" fill="#cdeaf8" stroke="#2eb0e8" stroke-width="0.8" fill-opacity="1"/>
<text x="513.70" y="213.00" font-size="8.2" text-anchor="start" fill="#111" >TOC removal</text></svg></body></html>
